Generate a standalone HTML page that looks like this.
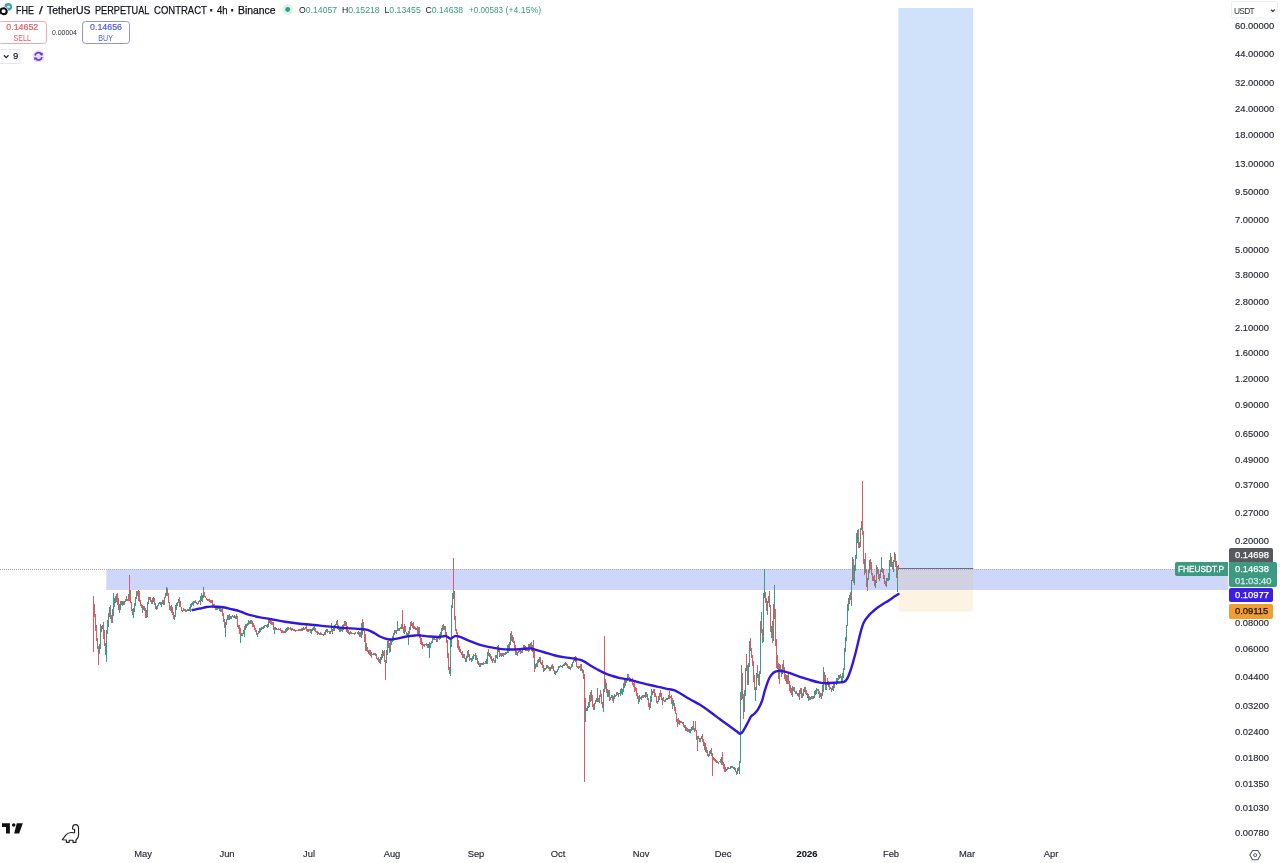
<!DOCTYPE html>
<html><head><meta charset="utf-8"><title>FHEUSDT.P</title>
<style>
html,body{margin:0;padding:0;background:#fff}
body{width:1280px;height:863px;position:relative;overflow:hidden;font-family:"Liberation Sans",sans-serif;color:#131722}
#chart{position:absolute;left:0;top:0}
.pl{position:absolute;left:1235px;font-size:9.4px;line-height:12px;height:12px;color:#262a34;-webkit-text-stroke:0.15px;white-space:nowrap}
.tl{position:absolute;top:848px;width:40px;text-align:center;font-size:9.4px;line-height:12px;color:#262a34;-webkit-text-stroke:0.15px}
.tl.b{font-weight:bold;color:#131722}
.tag{position:absolute;color:#fff;-webkit-text-stroke:0.25px;font-size:9.4px;line-height:12px;white-space:nowrap;box-sizing:border-box}
#title{-webkit-text-stroke:0.25px;position:absolute;left:15.25px;top:2.7px;font-size:10.7px;line-height:14px;white-space:nowrap;color:#10131a}
#title span{position:absolute;top:0;display:block;transform-origin:0 0;white-space:nowrap}
.ohlc{position:absolute;top:4px;font-size:8.7px;line-height:12px;white-space:nowrap;color:#131722}
.ohlc i{font-style:normal;color:#379a83}
.btn{position:absolute;top:20.9px;height:23.2px;box-sizing:border-box;border:1.2px solid;border-radius:3.5px;text-align:center;white-space:nowrap}
.btn b{display:block;font-weight:normal;font-size:8.85px;line-height:9px;margin-top:1.2px;-webkit-text-stroke:0.2px}
.btn s{display:block;text-decoration:none;font-size:8.4px;line-height:8px;margin-top:1.8px;transform:scaleX(0.85)}
</style></head><body>
<svg id="chart" width="1280" height="863" viewBox="0 0 1280 863">
<rect x="106.3" y="569" width="1122" height="21" fill="#cfd6fb"/>
<rect x="898.4" y="8" width="74.8" height="560.5" fill="#cfe2fa"/>
<rect x="898.4" y="568.5" width="74.8" height="21.5" fill="#d1d1e2"/>
<rect x="898.4" y="590" width="74.8" height="21.6" fill="#fcf3e2"/>
<line x1="0" y1="569.5" x2="106" y2="569.5" stroke="#9fa3ad" stroke-width="1" stroke-dasharray="1 1"/>
<line x1="106" y1="569.5" x2="1175" y2="569.5" stroke="#a9b0d8" stroke-width="1" stroke-dasharray="1 1"/>
<line x1="898.4" y1="568.5" x2="973.2" y2="568.5" stroke="#6a7080" stroke-width="1.2"/>
<g fill="none" stroke-width="1" shape-rendering="crispEdges"><path stroke="#dc5c66" d="M93.5 595.7V652.0M93.5 597.0V605.5M94.5 603.7V615.0M94.5 610.9V616.8M95.5 613.8V620.4M95.5 614.0V631.3M96.5 624.9V629.8M96.5 627.5V636.4M96.5 633.4V641.4M97.5 637.9V649.3M97.5 643.7V648.4M98.5 646.0V653.1M98.5 651.0V665.0"/><path stroke="#3d9b89" d="M99.5 650.1V653.6M99.5 643.8V652.2M100.5 639.6V649.0M100.5 633.6V646.9M100.5 624.1V638.3"/><path stroke="#dc5c66" d="M101.5 626.1V631.9"/><path stroke="#3d9b89" d="M101.5 627.7V630.6"/><path stroke="#dc5c66" d="M102.5 626.6V628.8"/><path stroke="#3d9b89" d="M102.5 625.4V629.2"/><path stroke="#dc5c66" d="M103.5 622.0V639.2M103.5 630.9V639.3M104.5 630.3V639.5M104.5 635.4V645.7M105.5 642.7V648.8M105.5 645.3V651.7"/><path stroke="#3d9b89" d="M105.5 643.7V655.0M106.5 638.1V662.0M106.5 629.5V643.3M107.5 627.1V634.2M107.5 620.4V629.2M108.5 621.2V626.9M108.5 613.3V624.1M109.5 608.0V616.7M109.5 606.9V613.8M110.5 604.7V608.9"/><path stroke="#dc5c66" d="M110.5 606.7V616.1M110.5 608.8V619.4M111.5 614.5V620.8M111.5 617.7V622.7"/><path stroke="#3d9b89" d="M112.5 616.0V622.9M112.5 608.5V617.7M113.5 603.9V615.9M113.5 593.0V606.4M114.5 600.5V604.5M114.5 598.0V607.4M114.5 598.1V602.5M115.5 597.7V600.0M115.5 595.8V603.1M116.5 594.3V597.0"/><path stroke="#dc5c66" d="M116.5 595.0V601.6M117.5 593.0V602.0M117.5 596.2V604.9M118.5 598.3V608.5"/><path stroke="#3d9b89" d="M118.5 605.8V610.2M119.5 604.4V610.0"/><path stroke="#dc5c66" d="M119.5 603.8V613.2"/><path stroke="#3d9b89" d="M119.5 609.5V613.3M120.5 605.3V610.0M120.5 600.7V606.2"/><path stroke="#dc5c66" d="M121.5 601.0V604.8"/><path stroke="#3d9b89" d="M121.5 601.4V604.6"/><path stroke="#dc5c66" d="M122.5 600.5V605.8"/><path stroke="#3d9b89" d="M122.5 601.6V604.7"/><path stroke="#dc5c66" d="M123.5 600.9V605.2M123.5 602.2V605.2"/><path stroke="#3d9b89" d="M124.5 600.9V605.2"/><path stroke="#dc5c66" d="M124.5 601.3V604.5"/><path stroke="#3d9b89" d="M124.5 600.8V605.1M125.5 600.6V601.7M125.5 599.0V602.4M126.5 596.4V601.4"/><path stroke="#dc5c66" d="M126.5 597.6V600.7"/><path stroke="#3d9b89" d="M127.5 598.7V599.9"/><path stroke="#dc5c66" d="M127.5 598.5V601.2"/><path stroke="#3d9b89" d="M128.5 594.4V600.0"/><path stroke="#dc5c66" d="M128.5 596.0V597.7M128.5 597.5V600.7M129.5 575.0V600.7"/><path stroke="#3d9b89" d="M129.5 593.4V596.4M130.5 590.5V600.2"/><path stroke="#dc5c66" d="M130.5 590.0V602.8M131.5 602.7V608.3M131.5 601.5V611.2M132.5 608.7V613.7"/><path stroke="#3d9b89" d="M132.5 611.8V615.1"/><path stroke="#dc5c66" d="M133.5 611.8V615.3M133.5 613.7V616.0"/><path stroke="#3d9b89" d="M133.5 608.1V618.2M134.5 605.2V612.4M134.5 602.8V611.3M135.5 600.3V605.6M135.5 597.0V604.8M136.5 594.1V598.5M136.5 591.0V596.6"/><path stroke="#dc5c66" d="M137.5 591.4V594.8M137.5 592.7V595.9"/><path stroke="#3d9b89" d="M138.5 592.1V597.4"/><path stroke="#dc5c66" d="M138.5 590.1V596.2M138.5 590.8V600.6M139.5 590.5V602.1M139.5 595.5V602.4M140.5 600.2V605.8M140.5 603.2V606.4M141.5 604.4V608.0M141.5 604.6V606.3"/><path stroke="#3d9b89" d="M142.5 604.8V610.3"/><path stroke="#dc5c66" d="M142.5 605.1V612.8"/><path stroke="#3d9b89" d="M142.5 608.0V611.5"/><path stroke="#dc5c66" d="M143.5 608.6V609.5"/><path stroke="#3d9b89" d="M143.5 605.8V609.3"/><path stroke="#dc5c66" d="M144.5 605.5V611.0"/><path stroke="#3d9b89" d="M144.5 607.6V609.2"/><path stroke="#dc5c66" d="M145.5 607.7V613.5M145.5 609.5V618.4"/><path stroke="#3d9b89" d="M146.5 610.3V617.6"/><path stroke="#dc5c66" d="M146.5 611.3V617.0"/><path stroke="#3d9b89" d="M147.5 606.3V617.3M147.5 608.4V614.0M147.5 601.9V611.0M148.5 596.8V604.1M148.5 597.1V598.9M149.5 596.9V597.4"/><path stroke="#dc5c66" d="M149.5 596.9V599.7M150.5 597.1V600.8M150.5 599.4V602.2"/><path stroke="#3d9b89" d="M151.5 600.5V603.7"/><path stroke="#dc5c66" d="M151.5 600.4V602.4"/><path stroke="#3d9b89" d="M152.5 597.6V602.9"/><path stroke="#dc5c66" d="M152.5 600.4V604.1"/><path stroke="#3d9b89" d="M152.5 598.3V602.8M153.5 596.8V599.8"/><path stroke="#dc5c66" d="M153.5 597.6V602.3M154.5 597.6V605.1M154.5 601.7V604.9M155.5 603.4V608.6"/><path stroke="#3d9b89" d="M155.5 603.0V608.8"/><path stroke="#dc5c66" d="M156.5 606.3V610.1M156.5 605.9V608.3M156.5 605.9V608.2"/><path stroke="#3d9b89" d="M157.5 606.0V608.8M157.5 604.8V607.8M158.5 604.7V606.1M158.5 602.9V605.4M159.5 602.1V604.3M159.5 601.9V603.7"/><path stroke="#dc5c66" d="M160.5 602.4V604.7"/><path stroke="#3d9b89" d="M160.5 602.0V605.0"/><path stroke="#dc5c66" d="M161.5 602.9V605.9"/><path stroke="#3d9b89" d="M161.5 602.4V606.6M161.5 602.4V603.9M162.5 599.7V603.8"/><path stroke="#dc5c66" d="M162.5 599.9V602.6"/><path stroke="#3d9b89" d="M163.5 601.3V603.7"/><path stroke="#dc5c66" d="M163.5 600.2V604.9"/><path stroke="#3d9b89" d="M164.5 596.9V604.5M164.5 597.9V599.7M165.5 592.8V598.0"/><path stroke="#dc5c66" d="M165.5 594.5V595.5"/><path stroke="#3d9b89" d="M166.5 592.2V596.1M166.5 592.1V593.8M166.5 587.1V593.3"/><path stroke="#dc5c66" d="M167.5 588.3V592.6M167.5 591.6V596.0M168.5 593.4V600.8M168.5 600.3V602.8M169.5 601.9V610.0"/><path stroke="#3d9b89" d="M169.5 607.3V609.6M170.5 606.9V608.8"/><path stroke="#dc5c66" d="M170.5 606.1V608.1M170.5 606.9V610.7"/><path stroke="#3d9b89" d="M171.5 605.4V613.1"/><path stroke="#dc5c66" d="M171.5 606.8V608.7M172.5 606.9V614.5M172.5 609.7V614.2M173.5 612.1V617.7M173.5 614.3V619.0"/><path stroke="#3d9b89" d="M174.5 617.5V618.6M174.5 615.1V619.7M175.5 610.9V616.7M175.5 605.2V615.9M175.5 607.7V610.0M176.5 606.7V609.7M176.5 602.5V609.8"/><path stroke="#dc5c66" d="M177.5 604.0V606.0"/><path stroke="#3d9b89" d="M177.5 601.9V605.2M178.5 599.2V602.8"/><path stroke="#dc5c66" d="M178.5 600.9V602.2"/><path stroke="#3d9b89" d="M179.5 600.1V604.4"/><path stroke="#dc5c66" d="M179.5 597.3V607.4"/><path stroke="#3d9b89" d="M180.5 600.5V607.1"/><path stroke="#dc5c66" d="M180.5 603.4V606.2M180.5 603.9V607.2"/><path stroke="#3d9b89" d="M181.5 606.7V607.7"/><path stroke="#dc5c66" d="M181.5 606.5V611.3"/><path stroke="#3d9b89" d="M182.5 609.5V611.8"/><path stroke="#dc5c66" d="M182.5 609.9V610.7"/><path stroke="#3d9b89" d="M183.5 608.1V610.6"/><path stroke="#dc5c66" d="M183.5 608.6V609.8M184.5 608.9V610.2M184.5 608.9V611.1"/><path stroke="#3d9b89" d="M184.5 609.9V611.0"/><path stroke="#dc5c66" d="M185.5 609.8V610.4M185.5 609.2V611.7"/><path stroke="#3d9b89" d="M186.5 610.3V611.8"/><path stroke="#dc5c66" d="M186.5 610.4V611.3"/><path stroke="#3d9b89" d="M187.5 610.5V611.2M187.5 608.9V610.8"/><path stroke="#dc5c66" d="M188.5 609.6V610.4"/><path stroke="#3d9b89" d="M188.5 609.4V610.9"/><path stroke="#dc5c66" d="M189.5 609.7V611.1"/><path stroke="#3d9b89" d="M189.5 607.3V611.3"/><path stroke="#dc5c66" d="M189.5 608.2V609.8"/><path stroke="#3d9b89" d="M190.5 604.7V611.9M190.5 603.7V608.6M191.5 604.0V606.9M191.5 602.7V606.4"/><path stroke="#dc5c66" d="M192.5 601.7V604.9"/><path stroke="#3d9b89" d="M192.5 601.9V605.3"/><path stroke="#dc5c66" d="M193.5 602.0V605.8"/><path stroke="#3d9b89" d="M193.5 601.4V603.8"/><path stroke="#dc5c66" d="M194.5 601.2V603.4"/><path stroke="#3d9b89" d="M194.5 601.5V603.3M194.5 600.6V602.0"/><path stroke="#dc5c66" d="M195.5 600.9V601.7M195.5 600.3V603.0M196.5 602.1V603.4M196.5 602.2V604.2"/><path stroke="#3d9b89" d="M197.5 603.7V604.9M197.5 602.9V604.1M198.5 600.5V603.4"/><path stroke="#dc5c66" d="M198.5 601.7V603.5"/><path stroke="#3d9b89" d="M198.5 601.2V603.2M199.5 599.5V601.8"/><path stroke="#dc5c66" d="M199.5 600.1V602.4"/><path stroke="#3d9b89" d="M200.5 599.5V604.5M200.5 595.8V600.9M201.5 599.1V601.1M201.5 593.4V600.4"/><path stroke="#dc5c66" d="M202.5 595.8V602.2"/><path stroke="#3d9b89" d="M202.5 595.3V599.5M203.5 591.1V597.6M203.5 586.5V594.6"/><path stroke="#dc5c66" d="M203.5 589.5V595.3M204.5 592.0V595.4M204.5 593.7V596.6M205.5 595.7V597.4M205.5 596.6V598.3M206.5 598.0V599.4M206.5 597.6V600.3"/><path stroke="#3d9b89" d="M207.5 598.6V600.9"/><path stroke="#dc5c66" d="M207.5 598.7V600.7"/><path stroke="#3d9b89" d="M208.5 599.0V601.2"/><path stroke="#dc5c66" d="M208.5 599.1V600.4M208.5 600.0V600.9"/><path stroke="#3d9b89" d="M209.5 600.0V602.4"/><path stroke="#dc5c66" d="M209.5 599.3V602.0M210.5 600.3V602.8M210.5 600.1V603.4M211.5 600.0V603.1M211.5 602.2V603.2M212.5 600.2V605.3"/><path stroke="#3d9b89" d="M212.5 603.2V605.8"/><path stroke="#dc5c66" d="M212.5 603.2V605.7M213.5 603.6V606.7"/><path stroke="#3d9b89" d="M213.5 603.9V606.5"/><path stroke="#dc5c66" d="M214.5 603.7V606.1M214.5 605.5V608.1M215.5 606.2V608.4M215.5 606.1V610.1M216.5 606.1V609.4"/><path stroke="#3d9b89" d="M216.5 608.1V609.9"/><path stroke="#dc5c66" d="M217.5 608.1V608.9M217.5 608.0V610.1"/><path stroke="#3d9b89" d="M217.5 607.0V609.5M218.5 607.7V609.0M218.5 607.2V608.1"/><path stroke="#dc5c66" d="M219.5 607.5V608.7M219.5 606.1V610.9"/><path stroke="#3d9b89" d="M220.5 606.2V612.4"/><path stroke="#dc5c66" d="M220.5 609.4V610.5"/><path stroke="#3d9b89" d="M221.5 608.8V609.8M221.5 608.9V611.6"/><path stroke="#dc5c66" d="M222.5 607.9V610.3M222.5 609.1V616.2M222.5 611.6V615.5M223.5 612.7V618.2M223.5 616.8V621.8"/><path stroke="#3d9b89" d="M224.5 618.5V621.9"/><path stroke="#dc5c66" d="M224.5 619.7V628.0M225.5 624.9V627.6"/><path stroke="#3d9b89" d="M225.5 622.3V637.0M226.5 620.7V624.7M226.5 619.9V624.2M226.5 618.9V622.4M227.5 617.8V619.7M227.5 615.3V619.2M228.5 615.7V619.8M228.5 615.0V617.5"/><path stroke="#dc5c66" d="M229.5 614.2V620.3"/><path stroke="#3d9b89" d="M229.5 617.1V617.8"/><path stroke="#dc5c66" d="M230.5 616.2V617.7"/><path stroke="#3d9b89" d="M230.5 616.6V618.6"/><path stroke="#dc5c66" d="M231.5 616.7V618.1"/><path stroke="#3d9b89" d="M231.5 617.7V618.8M231.5 615.7V618.2"/><path stroke="#dc5c66" d="M232.5 615.9V616.9M232.5 615.4V617.3M233.5 616.7V617.6"/><path stroke="#3d9b89" d="M233.5 615.7V617.4"/><path stroke="#dc5c66" d="M234.5 615.1V618.1"/><path stroke="#3d9b89" d="M234.5 615.8V618.3"/><path stroke="#dc5c66" d="M235.5 615.6V618.0"/><path stroke="#3d9b89" d="M235.5 616.1V618.7M236.5 613.6V616.8"/><path stroke="#dc5c66" d="M236.5 614.9V618.7"/><path stroke="#3d9b89" d="M236.5 616.4V618.1"/><path stroke="#dc5c66" d="M237.5 615.8V626.9M237.5 620.7V626.1M238.5 625.4V627.8M238.5 625.0V628.9M239.5 624.8V631.4M239.5 628.3V633.5M240.5 628.1V636.3"/><path stroke="#3d9b89" d="M240.5 635.8V642.6M240.5 633.5V637.2M241.5 633.7V635.5"/><path stroke="#dc5c66" d="M241.5 632.6V635.2"/><path stroke="#3d9b89" d="M242.5 633.1V634.8M242.5 632.6V635.6M243.5 632.0V634.4M243.5 630.3V632.4"/><path stroke="#dc5c66" d="M244.5 626.7V632.8"/><path stroke="#3d9b89" d="M244.5 625.5V636.8M245.5 625.1V628.0"/><path stroke="#dc5c66" d="M245.5 624.4V630.3M245.5 626.1V627.1"/><path stroke="#3d9b89" d="M246.5 623.6V627.8M246.5 623.8V627.8M247.5 623.4V625.5M247.5 622.5V624.4"/><path stroke="#dc5c66" d="M248.5 621.2V625.0"/><path stroke="#3d9b89" d="M248.5 619.8V623.7"/><path stroke="#dc5c66" d="M249.5 620.9V623.6"/><path stroke="#3d9b89" d="M249.5 620.8V623.6M250.5 619.5V622.2"/><path stroke="#dc5c66" d="M250.5 619.5V623.4"/><path stroke="#3d9b89" d="M250.5 620.3V623.5"/><path stroke="#dc5c66" d="M251.5 620.4V623.9M251.5 621.9V624.0"/><path stroke="#3d9b89" d="M252.5 623.1V624.2"/><path stroke="#dc5c66" d="M252.5 620.7V627.1M253.5 622.6V624.1M253.5 623.1V626.5"/><path stroke="#3d9b89" d="M254.5 625.0V630.0"/><path stroke="#dc5c66" d="M254.5 625.4V628.7M254.5 627.6V630.4M255.5 627.6V631.0M255.5 628.1V632.3M256.5 630.2V633.1M256.5 630.0V634.7"/><path stroke="#3d9b89" d="M257.5 633.1V636.5M257.5 632.9V634.8M258.5 631.7V634.2M258.5 631.4V633.9M259.5 629.5V632.6M259.5 628.4V632.7M259.5 629.6V631.6"/><path stroke="#dc5c66" d="M260.5 629.6V632.1"/><path stroke="#3d9b89" d="M260.5 627.8V630.7M261.5 626.8V629.9M261.5 627.4V628.7M262.5 626.5V629.4"/><path stroke="#dc5c66" d="M262.5 626.9V628.9M263.5 627.5V628.1"/><path stroke="#3d9b89" d="M263.5 626.2V628.9"/><path stroke="#dc5c66" d="M264.5 625.9V626.7"/><path stroke="#3d9b89" d="M264.5 626.1V627.7M264.5 624.7V626.8M265.5 625.0V626.3"/><path stroke="#dc5c66" d="M265.5 624.8V626.4M266.5 625.6V626.8"/><path stroke="#3d9b89" d="M266.5 625.3V626.7M267.5 625.2V627.8M267.5 623.5V626.0M268.5 623.3V626.6M268.5 621.4V624.9M268.5 619.0V623.0"/><path stroke="#dc5c66" d="M269.5 619.3V622.8M269.5 620.9V621.9M270.5 620.3V623.5M270.5 621.5V623.1M271.5 621.2V624.6"/><path stroke="#3d9b89" d="M271.5 623.5V624.3M272.5 622.1V624.6"/><path stroke="#dc5c66" d="M272.5 622.3V624.6M273.5 622.0V626.3M273.5 622.7V626.5M273.5 624.0V630.1"/><path stroke="#3d9b89" d="M274.5 628.3V634.0"/><path stroke="#dc5c66" d="M274.5 627.1V630.3"/><path stroke="#3d9b89" d="M275.5 627.3V629.7"/><path stroke="#dc5c66" d="M275.5 627.6V629.1"/><path stroke="#3d9b89" d="M276.5 628.4V629.7"/><path stroke="#dc5c66" d="M276.5 628.6V629.7M277.5 629.1V630.2"/><path stroke="#3d9b89" d="M277.5 629.6V630.3M278.5 628.3V629.9M278.5 628.3V629.4"/><path stroke="#dc5c66" d="M278.5 628.3V630.1"/><path stroke="#3d9b89" d="M279.5 629.6V630.2M279.5 629.2V629.8"/><path stroke="#dc5c66" d="M280.5 627.6V631.1M280.5 628.9V630.4M281.5 629.6V631.6M281.5 630.7V633.4"/><path stroke="#3d9b89" d="M282.5 630.4V631.9M282.5 630.1V631.7"/><path stroke="#dc5c66" d="M282.5 630.3V633.2"/><path stroke="#3d9b89" d="M283.5 631.1V633.3"/><path stroke="#dc5c66" d="M283.5 631.2V632.6"/><path stroke="#3d9b89" d="M284.5 632.2V632.5M284.5 631.2V633.3M285.5 629.2V633.4M285.5 629.4V632.4M286.5 629.6V632.0M286.5 628.4V630.7"/><path stroke="#dc5c66" d="M287.5 628.3V631.3"/><path stroke="#3d9b89" d="M287.5 628.0V630.2M287.5 626.8V629.4"/><path stroke="#dc5c66" d="M288.5 627.0V628.6M288.5 628.0V629.7"/><path stroke="#3d9b89" d="M289.5 628.2V628.6"/><path stroke="#dc5c66" d="M289.5 628.1V628.9"/><path stroke="#3d9b89" d="M290.5 628.1V629.8"/><path stroke="#dc5c66" d="M290.5 627.2V629.7M291.5 628.3V630.6"/><path stroke="#3d9b89" d="M291.5 629.1V630.1"/><path stroke="#dc5c66" d="M292.5 628.3V630.1M292.5 629.6V630.0"/><path stroke="#3d9b89" d="M292.5 628.7V630.2"/><path stroke="#dc5c66" d="M293.5 628.9V630.1M293.5 629.0V631.2M294.5 630.0V630.9"/><path stroke="#3d9b89" d="M294.5 629.3V630.9"/><path stroke="#dc5c66" d="M295.5 629.5V631.5M295.5 629.8V630.9"/><path stroke="#3d9b89" d="M296.5 629.8V630.9"/><path stroke="#dc5c66" d="M296.5 629.5V630.6M296.5 630.1V631.3"/><path stroke="#3d9b89" d="M297.5 629.8V631.0"/><path stroke="#dc5c66" d="M297.5 629.7V630.7"/><path stroke="#3d9b89" d="M298.5 628.7V630.7"/><path stroke="#dc5c66" d="M298.5 629.7V631.0"/><path stroke="#3d9b89" d="M299.5 628.9V631.1"/><path stroke="#dc5c66" d="M299.5 628.5V630.8M300.5 629.8V630.8"/><path stroke="#3d9b89" d="M300.5 629.2V630.5M301.5 629.0V630.4"/><path stroke="#dc5c66" d="M301.5 627.9V629.9M301.5 628.2V630.5M302.5 628.3V631.1"/><path stroke="#3d9b89" d="M302.5 628.8V629.9"/><path stroke="#dc5c66" d="M303.5 628.2V629.5"/><path stroke="#3d9b89" d="M303.5 627.4V629.7"/><path stroke="#dc5c66" d="M304.5 627.8V630.0M304.5 628.4V629.2"/><path stroke="#3d9b89" d="M305.5 628.4V629.3M305.5 626.8V629.4M306.5 625.0V628.3"/><path stroke="#dc5c66" d="M306.5 622.8V627.4M306.5 625.3V631.3M307.5 628.9V631.2M307.5 630.2V631.7"/><path stroke="#3d9b89" d="M308.5 629.5V631.7M308.5 628.6V630.5"/><path stroke="#dc5c66" d="M309.5 629.1V629.6M309.5 629.0V631.4M310.5 629.5V630.7M310.5 628.6V632.2M310.5 631.0V633.4"/><path stroke="#3d9b89" d="M311.5 628.9V633.8M311.5 630.0V632.6M312.5 629.0V630.8M312.5 628.4V629.6M313.5 628.3V629.1M313.5 627.4V629.5"/><path stroke="#dc5c66" d="M314.5 626.8V630.7"/><path stroke="#3d9b89" d="M314.5 626.2V630.1"/><path stroke="#dc5c66" d="M315.5 627.8V630.4M315.5 628.4V631.8M315.5 628.6V632.3M316.5 631.3V632.5M316.5 631.5V632.9"/><path stroke="#3d9b89" d="M317.5 632.3V634.6"/><path stroke="#dc5c66" d="M317.5 630.7V633.1"/><path stroke="#3d9b89" d="M318.5 632.7V633.8"/><path stroke="#dc5c66" d="M318.5 632.4V633.5M319.5 632.9V634.8"/><path stroke="#3d9b89" d="M319.5 632.8V634.3"/><path stroke="#dc5c66" d="M320.5 632.4V634.3M320.5 633.0V635.0"/><path stroke="#3d9b89" d="M320.5 634.0V635.1M321.5 633.1V634.9"/><path stroke="#dc5c66" d="M321.5 633.1V634.8M322.5 633.8V634.8"/><path stroke="#3d9b89" d="M322.5 633.5V634.4"/><path stroke="#dc5c66" d="M323.5 633.5V634.6"/><path stroke="#3d9b89" d="M323.5 633.5V636.2"/><path stroke="#dc5c66" d="M324.5 632.7V634.8"/><path stroke="#3d9b89" d="M324.5 632.4V634.0"/><path stroke="#dc5c66" d="M324.5 632.0V635.0"/><path stroke="#3d9b89" d="M325.5 632.7V634.7M325.5 630.0V633.3M326.5 630.7V631.8M326.5 629.3V631.8"/><path stroke="#dc5c66" d="M327.5 629.4V632.5"/><path stroke="#3d9b89" d="M327.5 630.7V632.6"/><path stroke="#dc5c66" d="M328.5 630.6V632.3"/><path stroke="#3d9b89" d="M328.5 631.8V632.3"/><path stroke="#dc5c66" d="M329.5 631.7V632.8"/><path stroke="#3d9b89" d="M329.5 631.3V633.1"/><path stroke="#dc5c66" d="M329.5 630.6V633.9"/><path stroke="#3d9b89" d="M330.5 632.0V634.2M330.5 630.6V633.8M331.5 623.0V632.0"/><path stroke="#dc5c66" d="M331.5 629.9V631.7"/><path stroke="#3d9b89" d="M332.5 628.5V631.8"/><path stroke="#dc5c66" d="M332.5 629.5V633.5"/><path stroke="#3d9b89" d="M333.5 627.1V631.3M333.5 628.2V629.2M334.5 627.3V628.7"/><path stroke="#dc5c66" d="M334.5 627.4V631.0"/><path stroke="#3d9b89" d="M334.5 625.4V629.9M335.5 625.2V628.0M335.5 623.7V626.3"/><path stroke="#dc5c66" d="M336.5 623.1V625.3"/><path stroke="#3d9b89" d="M336.5 621.0V625.1"/><path stroke="#dc5c66" d="M337.5 619.6V624.6M337.5 621.7V628.9M338.5 624.7V628.6M338.5 626.0V628.7"/><path stroke="#3d9b89" d="M338.5 626.1V629.5"/><path stroke="#dc5c66" d="M339.5 627.7V630.6"/><path stroke="#3d9b89" d="M339.5 628.1V632.0"/><path stroke="#dc5c66" d="M340.5 628.1V631.5"/><path stroke="#3d9b89" d="M340.5 628.1V630.9M341.5 627.6V630.1"/><path stroke="#dc5c66" d="M341.5 628.2V631.2"/><path stroke="#3d9b89" d="M342.5 625.7V631.5M342.5 625.0V629.3"/><path stroke="#dc5c66" d="M343.5 625.0V627.9"/><path stroke="#3d9b89" d="M343.5 624.5V630.0"/><path stroke="#dc5c66" d="M343.5 623.8V626.7"/><path stroke="#3d9b89" d="M344.5 620.9V625.7"/><path stroke="#dc5c66" d="M344.5 621.2V622.8M345.5 621.8V625.6M345.5 620.9V626.0M346.5 622.1V630.4M346.5 627.4V631.7M347.5 626.2V630.3M347.5 627.5V633.1M348.5 630.2V634.3"/><path stroke="#3d9b89" d="M348.5 631.5V634.4M348.5 632.2V632.7"/><path stroke="#dc5c66" d="M349.5 632.1V634.5"/><path stroke="#3d9b89" d="M349.5 632.8V633.7M350.5 631.1V634.0"/><path stroke="#dc5c66" d="M350.5 631.8V633.8"/><path stroke="#3d9b89" d="M351.5 632.8V633.4"/><path stroke="#dc5c66" d="M351.5 632.2V633.7M352.5 632.7V633.9"/><path stroke="#3d9b89" d="M352.5 633.3V634.0"/><path stroke="#dc5c66" d="M352.5 632.9V633.9"/><path stroke="#3d9b89" d="M353.5 633.2V633.8M353.5 633.1V633.5"/><path stroke="#dc5c66" d="M354.5 632.9V634.6"/><path stroke="#3d9b89" d="M354.5 632.6V634.4"/><path stroke="#dc5c66" d="M355.5 632.4V633.9"/><path stroke="#3d9b89" d="M355.5 632.4V634.2"/><path stroke="#dc5c66" d="M356.5 632.7V633.1M356.5 632.9V633.4"/><path stroke="#3d9b89" d="M357.5 632.2V634.4"/><path stroke="#dc5c66" d="M357.5 632.4V633.5"/><path stroke="#3d9b89" d="M357.5 632.8V634.3"/><path stroke="#dc5c66" d="M358.5 633.0V634.6"/><path stroke="#3d9b89" d="M358.5 631.0V634.3"/><path stroke="#dc5c66" d="M359.5 631.8V632.8M359.5 631.8V636.5"/><path stroke="#3d9b89" d="M360.5 633.5V637.4"/><path stroke="#dc5c66" d="M360.5 631.9V635.2"/><path stroke="#3d9b89" d="M361.5 632.2V637.5M361.5 623.2V634.2M362.5 627.0V635.4M362.5 620.5V630.0"/><path stroke="#dc5c66" d="M362.5 619.0V623.9M363.5 621.6V628.2M363.5 626.4V630.7M364.5 628.7V634.5M364.5 627.6V642.0M365.5 634.0V650.8"/><path stroke="#3d9b89" d="M365.5 643.5V648.5"/><path stroke="#dc5c66" d="M366.5 642.6V651.4"/><path stroke="#3d9b89" d="M366.5 645.3V650.5"/><path stroke="#dc5c66" d="M366.5 645.0V650.3"/><path stroke="#3d9b89" d="M367.5 649.0V650.2"/><path stroke="#dc5c66" d="M367.5 647.3V651.9M368.5 649.9V653.8"/><path stroke="#3d9b89" d="M368.5 651.2V653.0M369.5 651.0V653.3"/><path stroke="#dc5c66" d="M369.5 649.5V654.8M370.5 650.1V655.8"/><path stroke="#3d9b89" d="M370.5 653.6V655.8"/><path stroke="#dc5c66" d="M371.5 654.1V655.6"/><path stroke="#3d9b89" d="M371.5 652.2V656.6"/><path stroke="#dc5c66" d="M371.5 653.3V658.0"/><path stroke="#3d9b89" d="M372.5 654.5V654.8M372.5 653.9V654.7"/><path stroke="#dc5c66" d="M373.5 653.4V654.4"/><path stroke="#3d9b89" d="M373.5 653.7V655.1"/><path stroke="#dc5c66" d="M374.5 653.4V654.9"/><path stroke="#3d9b89" d="M374.5 654.0V654.6"/><path stroke="#dc5c66" d="M375.5 652.9V655.7"/><path stroke="#3d9b89" d="M375.5 654.7V655.8"/><path stroke="#dc5c66" d="M376.5 654.2V655.4M376.5 653.8V658.5M376.5 655.8V657.9M377.5 657.6V659.6M377.5 657.9V659.1M378.5 657.3V660.9M378.5 658.9V661.5M379.5 659.7V661.4M379.5 658.7V662.9"/><path stroke="#3d9b89" d="M380.5 659.5V663.9M380.5 660.4V662.8M380.5 656.5V662.3M381.5 654.2V659.6M381.5 654.1V659.4M382.5 654.0V658.4M382.5 650.0V655.5"/><path stroke="#dc5c66" d="M383.5 651.4V653.4M383.5 651.7V655.9M384.5 650.2V658.9M384.5 657.3V662.0M385.5 660.2V666.4"/><path stroke="#3d9b89" d="M385.5 662.5V665.0"/><path stroke="#dc5c66" d="M385.5 659.7V680.0"/><path stroke="#3d9b89" d="M386.5 657.2V663.4M386.5 650.3V661.9M387.5 641.2V654.9M387.5 641.2V646.1M388.5 639.1V647.9"/><path stroke="#dc5c66" d="M388.5 639.9V648.4M389.5 643.0V653.1"/><path stroke="#3d9b89" d="M389.5 648.0V650.3M390.5 642.4V652.2M390.5 641.3V650.3M390.5 638.2V647.1"/><path stroke="#dc5c66" d="M391.5 639.4V643.9"/><path stroke="#3d9b89" d="M391.5 638.9V645.4M392.5 636.9V642.4"/><path stroke="#dc5c66" d="M392.5 636.0V637.3M393.5 636.6V640.2"/><path stroke="#3d9b89" d="M393.5 632.7V641.3"/><path stroke="#dc5c66" d="M394.5 633.8V635.0"/><path stroke="#3d9b89" d="M394.5 632.2V635.3M394.5 630.1V633.5"/><path stroke="#dc5c66" d="M395.5 629.5V632.3M395.5 631.8V633.4"/><path stroke="#3d9b89" d="M396.5 630.9V634.0M396.5 630.3V632.4M397.5 628.9V630.9M397.5 620.7V629.7"/><path stroke="#dc5c66" d="M398.5 628.3V630.3M398.5 628.9V631.0"/><path stroke="#3d9b89" d="M399.5 627.7V630.9"/><path stroke="#dc5c66" d="M399.5 627.6V630.8"/><path stroke="#3d9b89" d="M399.5 627.9V630.4M400.5 626.9V629.0"/><path stroke="#dc5c66" d="M400.5 626.6V629.0"/><path stroke="#3d9b89" d="M401.5 627.0V628.6M401.5 624.0V627.4M402.5 619.5V625.7"/><path stroke="#dc5c66" d="M402.5 610.0V628.7M403.5 627.0V633.3"/><path stroke="#3d9b89" d="M403.5 628.9V632.5M404.5 628.1V633.5M404.5 625.2V629.8"/><path stroke="#dc5c66" d="M404.5 623.9V629.3M405.5 625.9V630.9M405.5 625.8V632.1M406.5 631.5V634.9M406.5 632.1V634.9M407.5 634.7V636.8"/><path stroke="#3d9b89" d="M407.5 632.6V636.7"/><path stroke="#dc5c66" d="M408.5 631.9V637.2"/><path stroke="#3d9b89" d="M408.5 630.7V635.7M408.5 631.4V645.0M409.5 627.0V633.0"/><path stroke="#dc5c66" d="M409.5 627.7V633.5"/><path stroke="#3d9b89" d="M410.5 624.3V629.8M410.5 621.6V626.3M411.5 622.3V624.1"/><path stroke="#dc5c66" d="M411.5 621.0V626.0M412.5 623.3V628.4M412.5 625.2V626.8"/><path stroke="#3d9b89" d="M413.5 625.6V628.6"/><path stroke="#dc5c66" d="M413.5 622.3V627.8M413.5 626.7V627.4M414.5 626.0V628.8M414.5 625.6V628.3M415.5 627.0V628.9M415.5 627.7V630.3M416.5 627.6V629.2"/><path stroke="#3d9b89" d="M416.5 628.2V630.0"/><path stroke="#dc5c66" d="M417.5 626.4V630.5M417.5 629.0V633.7"/><path stroke="#3d9b89" d="M418.5 630.0V631.1"/><path stroke="#dc5c66" d="M418.5 629.1V635.2"/><path stroke="#3d9b89" d="M418.5 626.8V634.3"/><path stroke="#dc5c66" d="M419.5 626.8V637.1M419.5 633.9V637.6M420.5 633.9V641.9M420.5 637.1V644.3"/><path stroke="#3d9b89" d="M421.5 638.0V644.9"/><path stroke="#dc5c66" d="M421.5 638.3V644.8M422.5 642.9V645.5"/><path stroke="#3d9b89" d="M422.5 642.1V645.0"/><path stroke="#dc5c66" d="M422.5 642.1V649.0M423.5 643.9V645.4M423.5 644.6V646.2"/><path stroke="#3d9b89" d="M424.5 645.1V646.4M424.5 644.2V646.5M425.5 644.2V644.4"/><path stroke="#dc5c66" d="M425.5 643.8V644.5"/><path stroke="#3d9b89" d="M426.5 643.5V644.8"/><path stroke="#dc5c66" d="M426.5 642.9V645.8"/><path stroke="#3d9b89" d="M427.5 644.1V645.5"/><path stroke="#dc5c66" d="M427.5 644.4V647.7"/><path stroke="#3d9b89" d="M427.5 644.5V646.6"/><path stroke="#dc5c66" d="M428.5 645.1V647.1"/><path stroke="#3d9b89" d="M428.5 644.4V647.6M429.5 644.4V658.0M429.5 641.7V645.8"/><path stroke="#dc5c66" d="M430.5 642.9V645.3"/><path stroke="#3d9b89" d="M430.5 642.9V647.9M431.5 641.1V644.0"/><path stroke="#dc5c66" d="M431.5 640.8V642.8"/><path stroke="#3d9b89" d="M432.5 640.5V642.7M432.5 637.9V641.0M432.5 638.1V640.9"/><path stroke="#dc5c66" d="M433.5 637.9V639.7"/><path stroke="#3d9b89" d="M433.5 636.8V639.1"/><path stroke="#dc5c66" d="M434.5 637.1V638.4M434.5 636.4V639.6M435.5 638.6V640.0"/><path stroke="#3d9b89" d="M435.5 638.8V639.7"/><path stroke="#dc5c66" d="M436.5 638.6V641.6"/><path stroke="#3d9b89" d="M436.5 638.1V641.1"/><path stroke="#dc5c66" d="M436.5 638.8V641.6"/><path stroke="#3d9b89" d="M437.5 639.0V641.8M437.5 637.1V640.2M438.5 637.2V639.2M438.5 636.8V638.6M439.5 635.5V637.7"/><path stroke="#dc5c66" d="M439.5 633.7V640.4"/><path stroke="#3d9b89" d="M440.5 633.8V639.3M440.5 632.2V638.1M441.5 628.3V636.1M441.5 629.5V632.8M441.5 628.1V631.5M442.5 626.5V630.5M442.5 624.9V630.2M443.5 624.0V627.6"/><path stroke="#dc5c66" d="M443.5 624.7V629.8M444.5 626.8V629.5"/><path stroke="#3d9b89" d="M444.5 625.5V628.6"/><path stroke="#dc5c66" d="M445.5 625.9V629.8M445.5 627.5V633.1M445.5 629.5V637.4"/><path stroke="#3d9b89" d="M446.5 633.0V634.5"/><path stroke="#dc5c66" d="M446.5 632.3V643.2M447.5 640.0V649.8M447.5 646.6V658.1M448.5 652.7V667.5M448.5 663.4V669.7M449.5 666.9V671.9"/><path stroke="#3d9b89" d="M449.5 670.0V673.8M450.5 668.3V675.5M450.5 664.1V675.2M450.5 640.4V666.7M451.5 613.6V647.1M451.5 605.0V616.5M452.5 597.3V608.1M452.5 592.7V603.5"/><path stroke="#dc5c66" d="M453.5 557.6V598.9"/><path stroke="#3d9b89" d="M453.5 589.9V595.9"/><path stroke="#dc5c66" d="M454.5 591.3V605.7M454.5 599.8V620.2M455.5 615.9V626.6M455.5 625.3V629.3M455.5 625.5V631.3M456.5 629.2V632.9M456.5 631.7V634.4M457.5 632.1V639.0M457.5 634.7V647.6M458.5 639.5V648.8M458.5 643.2V649.7M459.5 646.1V650.4"/><path stroke="#3d9b89" d="M459.5 647.7V652.2"/><path stroke="#dc5c66" d="M459.5 647.0V651.6M460.5 649.4V652.1M460.5 649.0V653.2M461.5 651.6V654.5M461.5 652.2V653.4M462.5 650.6V654.6M462.5 653.3V658.3"/><path stroke="#3d9b89" d="M463.5 654.4V657.5"/><path stroke="#dc5c66" d="M463.5 655.3V656.1M464.5 654.3V657.9"/><path stroke="#3d9b89" d="M464.5 654.4V657.6"/><path stroke="#dc5c66" d="M464.5 656.4V658.6M465.5 657.7V660.9"/><path stroke="#3d9b89" d="M465.5 658.6V661.9M466.5 656.4V660.5M466.5 655.6V661.9M467.5 652.5V657.6M467.5 651.1V654.2"/><path stroke="#dc5c66" d="M468.5 650.0V653.1M468.5 651.1V656.7M469.5 653.8V660.5"/><path stroke="#3d9b89" d="M469.5 655.1V657.7"/><path stroke="#dc5c66" d="M469.5 655.9V659.7M470.5 659.0V660.3"/><path stroke="#3d9b89" d="M470.5 657.7V659.9"/><path stroke="#dc5c66" d="M471.5 658.0V660.8"/><path stroke="#3d9b89" d="M471.5 659.4V661.7M472.5 657.2V660.7M472.5 655.9V658.7M473.5 656.2V658.5M473.5 654.3V657.3M473.5 655.4V656.9M474.5 654.6V655.9"/><path stroke="#dc5c66" d="M474.5 654.5V656.4M475.5 654.9V659.9"/><path stroke="#3d9b89" d="M475.5 653.0V658.2"/><path stroke="#dc5c66" d="M476.5 654.6V659.3"/><path stroke="#3d9b89" d="M476.5 657.4V660.3"/><path stroke="#dc5c66" d="M477.5 657.5V662.3"/><path stroke="#3d9b89" d="M477.5 658.9V664.3"/><path stroke="#dc5c66" d="M478.5 660.6V664.0"/><path stroke="#3d9b89" d="M478.5 660.7V664.4"/><path stroke="#dc5c66" d="M478.5 661.4V665.4M479.5 662.9V666.7"/><path stroke="#3d9b89" d="M479.5 665.5V667.2M480.5 663.0V667.2M480.5 664.1V665.2M481.5 662.8V664.5M481.5 662.5V664.5M482.5 663.2V663.6M482.5 662.8V664.6"/><path stroke="#dc5c66" d="M483.5 661.9V663.9"/><path stroke="#3d9b89" d="M483.5 662.9V664.6"/><path stroke="#dc5c66" d="M483.5 662.2V664.0"/><path stroke="#3d9b89" d="M484.5 662.8V664.2"/><path stroke="#dc5c66" d="M484.5 663.0V663.8"/><path stroke="#3d9b89" d="M485.5 662.8V663.3"/><path stroke="#dc5c66" d="M485.5 661.3V663.7"/><path stroke="#3d9b89" d="M486.5 661.1V663.9M486.5 658.7V663.6"/><path stroke="#dc5c66" d="M487.5 658.8V664.4"/><path stroke="#3d9b89" d="M487.5 655.4V664.3M487.5 652.1V658.5M488.5 650.6V655.8"/><path stroke="#dc5c66" d="M488.5 649.0V653.7M489.5 653.1V654.8"/><path stroke="#3d9b89" d="M489.5 653.4V656.8"/><path stroke="#dc5c66" d="M490.5 653.7V658.5M490.5 656.2V658.7"/><path stroke="#3d9b89" d="M491.5 657.3V657.9"/><path stroke="#dc5c66" d="M491.5 656.0V661.0M492.5 659.9V662.6"/><path stroke="#3d9b89" d="M492.5 659.6V661.8M492.5 659.3V661.4"/><path stroke="#dc5c66" d="M493.5 659.9V661.1M493.5 658.3V661.4"/><path stroke="#3d9b89" d="M494.5 660.1V662.6"/><path stroke="#dc5c66" d="M494.5 659.7V663.1"/><path stroke="#3d9b89" d="M495.5 657.8V662.5M495.5 654.7V659.9"/><path stroke="#dc5c66" d="M496.5 655.7V658.0"/><path stroke="#3d9b89" d="M496.5 655.1V657.5M497.5 648.8V658.6M497.5 646.2V651.7"/><path stroke="#dc5c66" d="M497.5 647.4V649.7"/><path stroke="#3d9b89" d="M498.5 644.7V650.8"/><path stroke="#dc5c66" d="M498.5 649.3V651.7M499.5 650.8V653.1M499.5 649.2V657.1M500.5 652.7V654.2M500.5 653.3V656.2M501.5 653.3V657.0M501.5 655.2V656.6"/><path stroke="#3d9b89" d="M501.5 653.1V656.6"/><path stroke="#dc5c66" d="M502.5 653.1V655.3"/><path stroke="#3d9b89" d="M502.5 653.8V655.9M503.5 653.7V655.2"/><path stroke="#dc5c66" d="M503.5 652.7V657.1"/><path stroke="#3d9b89" d="M504.5 652.9V654.5"/><path stroke="#dc5c66" d="M504.5 652.7V654.3M505.5 653.7V655.4"/><path stroke="#3d9b89" d="M505.5 651.8V654.7M506.5 651.7V652.9"/><path stroke="#dc5c66" d="M506.5 651.8V653.9"/><path stroke="#3d9b89" d="M506.5 651.5V654.1M507.5 648.9V652.5M507.5 644.5V651.5"/><path stroke="#dc5c66" d="M508.5 643.7V652.9"/><path stroke="#3d9b89" d="M508.5 649.6V652.8M509.5 646.6V651.1M509.5 642.2V647.2M510.5 637.9V645.1M510.5 632.8V639.9"/><path stroke="#dc5c66" d="M511.5 634.8V640.6M511.5 631.0V639.3"/><path stroke="#3d9b89" d="M511.5 636.6V638.8"/><path stroke="#dc5c66" d="M512.5 635.2V642.0"/><path stroke="#3d9b89" d="M512.5 638.3V640.9"/><path stroke="#dc5c66" d="M513.5 636.7V641.7M513.5 639.8V643.1M514.5 640.6V648.0M514.5 643.8V648.8M515.5 645.5V647.7M515.5 644.8V651.5M515.5 650.1V654.7"/><path stroke="#3d9b89" d="M516.5 651.6V652.8"/><path stroke="#dc5c66" d="M516.5 651.3V655.1"/><path stroke="#3d9b89" d="M517.5 653.4V656.2M517.5 651.9V655.7M518.5 651.3V652.9M518.5 650.9V652.5M519.5 650.2V652.2"/><path stroke="#dc5c66" d="M519.5 648.1V652.4M520.5 649.4V652.6M520.5 652.1V654.0M520.5 652.4V654.0"/><path stroke="#3d9b89" d="M521.5 653.1V653.2M521.5 651.2V653.2"/><path stroke="#dc5c66" d="M522.5 651.2V652.6"/><path stroke="#3d9b89" d="M522.5 648.3V652.3M523.5 647.9V649.8M523.5 645.3V648.8"/><path stroke="#dc5c66" d="M524.5 644.7V647.4M524.5 645.7V647.5M525.5 645.6V648.9M525.5 646.6V650.3M525.5 648.7V651.4M526.5 648.7V650.5"/><path stroke="#3d9b89" d="M526.5 647.4V651.4"/><path stroke="#dc5c66" d="M527.5 648.4V650.7M527.5 649.0V650.8M528.5 650.6V652.4"/><path stroke="#3d9b89" d="M528.5 644.4V651.2"/><path stroke="#dc5c66" d="M529.5 646.9V650.9"/><path stroke="#3d9b89" d="M529.5 646.0V648.6M529.5 643.5V647.7"/><path stroke="#dc5c66" d="M530.5 643.5V644.5M530.5 642.6V647.7"/><path stroke="#3d9b89" d="M531.5 641.8V647.7"/><path stroke="#dc5c66" d="M531.5 641.5V650.8"/><path stroke="#3d9b89" d="M532.5 646.3V652.3M532.5 644.6V647.6"/><path stroke="#dc5c66" d="M533.5 640.0V657.8M533.5 649.0V655.9M534.5 651.0V660.7M534.5 656.8V671.9"/><path stroke="#3d9b89" d="M534.5 661.8V666.9M535.5 664.8V668.8M535.5 663.7V666.5M536.5 662.6V664.5"/><path stroke="#dc5c66" d="M536.5 662.7V667.3"/><path stroke="#3d9b89" d="M537.5 661.9V666.9M537.5 660.2V663.8M538.5 659.9V662.7M538.5 659.4V661.7"/><path stroke="#dc5c66" d="M539.5 658.5V660.7"/><path stroke="#3d9b89" d="M539.5 657.0V661.5M539.5 657.9V660.6"/><path stroke="#dc5c66" d="M540.5 657.3V662.5M540.5 658.4V664.0M541.5 662.5V665.1M541.5 661.9V664.8M542.5 659.8V667.5M542.5 664.5V667.5"/><path stroke="#3d9b89" d="M543.5 664.7V667.8"/><path stroke="#dc5c66" d="M543.5 666.0V670.9"/><path stroke="#3d9b89" d="M543.5 669.7V672.2M544.5 668.3V671.0"/><path stroke="#dc5c66" d="M544.5 667.9V668.7M545.5 667.9V669.8"/><path stroke="#3d9b89" d="M545.5 668.2V669.0M546.5 667.0V669.0M546.5 665.4V668.7"/><path stroke="#dc5c66" d="M547.5 666.6V668.1"/><path stroke="#3d9b89" d="M547.5 665.0V667.5"/><path stroke="#dc5c66" d="M548.5 666.0V668.3"/><path stroke="#3d9b89" d="M548.5 666.7V668.7"/><path stroke="#dc5c66" d="M548.5 667.1V668.5M549.5 667.2V668.2M549.5 667.9V671.2"/><path stroke="#3d9b89" d="M550.5 667.4V670.5M550.5 667.3V668.2M551.5 666.6V668.7M551.5 665.3V667.9"/><path stroke="#dc5c66" d="M552.5 663.9V667.3M552.5 664.7V669.0M553.5 666.4V669.8M553.5 667.5V670.3M553.5 668.8V671.2M554.5 669.7V672.4"/><path stroke="#3d9b89" d="M554.5 670.8V674.4"/><path stroke="#dc5c66" d="M555.5 670.5V674.7"/><path stroke="#3d9b89" d="M555.5 671.1V673.6"/><path stroke="#dc5c66" d="M556.5 671.0V673.0"/><path stroke="#3d9b89" d="M556.5 671.1V672.9"/><path stroke="#dc5c66" d="M557.5 671.1V671.4"/><path stroke="#3d9b89" d="M557.5 668.7V672.0M557.5 669.0V671.1M558.5 667.6V669.4M558.5 666.4V670.0"/><path stroke="#dc5c66" d="M559.5 666.7V668.3"/><path stroke="#3d9b89" d="M559.5 666.0V668.1"/><path stroke="#dc5c66" d="M560.5 665.9V666.5"/><path stroke="#3d9b89" d="M560.5 665.1V666.9"/><path stroke="#dc5c66" d="M561.5 665.5V667.4M561.5 666.2V666.9M562.5 666.5V667.6"/><path stroke="#3d9b89" d="M562.5 666.2V667.1M562.5 664.8V667.1M563.5 664.3V666.2"/><path stroke="#dc5c66" d="M563.5 665.1V666.4"/><path stroke="#3d9b89" d="M564.5 664.6V666.3M564.5 663.2V665.8"/><path stroke="#dc5c66" d="M565.5 662.1V664.7"/><path stroke="#3d9b89" d="M565.5 662.7V664.8"/><path stroke="#dc5c66" d="M566.5 663.3V665.3M566.5 662.7V665.8M567.5 663.5V667.3M567.5 666.1V667.2"/><path stroke="#3d9b89" d="M567.5 665.9V667.6"/><path stroke="#dc5c66" d="M568.5 666.4V668.7M568.5 666.8V668.4M569.5 667.9V668.7"/><path stroke="#3d9b89" d="M569.5 666.4V669.3"/><path stroke="#dc5c66" d="M570.5 666.8V669.1"/><path stroke="#3d9b89" d="M570.5 666.6V669.7M571.5 665.4V668.2M571.5 664.3V667.0"/><path stroke="#dc5c66" d="M571.5 663.5V666.9"/><path stroke="#3d9b89" d="M572.5 663.2V666.6M572.5 661.5V665.1M573.5 660.7V662.6M573.5 659.8V663.4M574.5 657.9V661.0M574.5 657.4V659.9"/><path stroke="#dc5c66" d="M575.5 657.3V661.2M575.5 655.6V661.7M576.5 656.5V663.7M576.5 661.3V666.0M576.5 664.0V667.4M577.5 666.6V668.1M577.5 666.1V668.2M578.5 666.2V668.8"/><path stroke="#3d9b89" d="M578.5 665.9V668.8"/><path stroke="#dc5c66" d="M579.5 665.6V667.6"/><path stroke="#3d9b89" d="M579.5 665.8V667.2"/><path stroke="#dc5c66" d="M580.5 663.7V667.9M580.5 666.5V670.5M581.5 666.9V670.2M581.5 664.4V670.6"/><path stroke="#3d9b89" d="M581.5 668.3V671.0"/><path stroke="#dc5c66" d="M582.5 668.6V670.6M582.5 669.3V673.2"/><path stroke="#3d9b89" d="M583.5 670.0V678.8"/><path stroke="#dc5c66" d="M583.5 671.5V677.8M584.5 674.2V683.9M584.5 678.5V782.0M585.5 698.1V715.6"/><path stroke="#3d9b89" d="M585.5 713.0V721.6M585.5 707.7V715.1"/><path stroke="#dc5c66" d="M586.5 708.3V710.8"/><path stroke="#3d9b89" d="M586.5 708.0V711.2M587.5 706.4V710.6"/><path stroke="#dc5c66" d="M587.5 705.8V708.1"/><path stroke="#3d9b89" d="M588.5 701.6V708.4M588.5 702.9V706.6M589.5 695.4V706.8"/><path stroke="#dc5c66" d="M589.5 698.7V702.7"/><path stroke="#3d9b89" d="M590.5 694.4V702.1"/><path stroke="#dc5c66" d="M590.5 695.3V700.3"/><path stroke="#3d9b89" d="M590.5 692.4V698.0"/><path stroke="#dc5c66" d="M591.5 689.6V696.9M591.5 694.1V701.0M592.5 695.1V704.0M592.5 699.7V706.5M593.5 704.6V708.3M593.5 704.4V710.0"/><path stroke="#3d9b89" d="M594.5 705.9V710.2M594.5 703.3V708.1M595.5 699.7V704.0"/><path stroke="#dc5c66" d="M595.5 700.5V702.8"/><path stroke="#3d9b89" d="M595.5 699.7V701.9M596.5 698.2V701.3M596.5 698.7V702.0M597.5 688.0V701.7"/><path stroke="#dc5c66" d="M597.5 694.2V699.5"/><path stroke="#3d9b89" d="M598.5 698.0V699.5"/><path stroke="#dc5c66" d="M598.5 698.4V702.3"/><path stroke="#3d9b89" d="M599.5 701.2V702.9M599.5 697.7V702.0M599.5 695.1V700.8M600.5 693.1V696.2"/><path stroke="#dc5c66" d="M600.5 690.2V697.3M601.5 693.7V702.4M601.5 697.6V704.2M602.5 702.9V703.6M602.5 702.4V708.3"/><path stroke="#3d9b89" d="M603.5 702.8V712.0M603.5 688.5V703.9"/><path stroke="#dc5c66" d="M604.5 636.0V691.9"/><path stroke="#3d9b89" d="M604.5 677.8V688.1"/><path stroke="#dc5c66" d="M604.5 679.8V683.9M605.5 679.2V686.1"/><path stroke="#3d9b89" d="M605.5 684.7V688.9"/><path stroke="#dc5c66" d="M606.5 682.7V692.8M606.5 689.4V692.0M607.5 690.4V692.9"/><path stroke="#3d9b89" d="M607.5 689.3V696.9"/><path stroke="#dc5c66" d="M608.5 689.7V696.7"/><path stroke="#3d9b89" d="M608.5 691.2V696.0"/><path stroke="#dc5c66" d="M609.5 690.2V697.3"/><path stroke="#3d9b89" d="M609.5 694.4V696.8"/><path stroke="#dc5c66" d="M609.5 695.9V700.6"/><path stroke="#3d9b89" d="M610.5 697.3V700.3M610.5 696.5V698.1M611.5 694.6V697.3M611.5 694.5V698.2"/><path stroke="#dc5c66" d="M612.5 695.3V699.5M612.5 696.9V700.7M613.5 699.1V702.6"/><path stroke="#3d9b89" d="M613.5 697.9V702.0M613.5 695.5V699.2"/><path stroke="#dc5c66" d="M614.5 697.1V698.3"/><path stroke="#3d9b89" d="M614.5 694.3V698.7M615.5 694.5V696.9"/><path stroke="#dc5c66" d="M615.5 694.5V696.7"/><path stroke="#3d9b89" d="M616.5 694.2V696.4M616.5 691.8V696.2"/><path stroke="#dc5c66" d="M617.5 691.9V695.4M617.5 693.6V694.6M618.5 693.7V695.0M618.5 693.3V697.0"/><path stroke="#3d9b89" d="M618.5 693.7V696.9M619.5 693.3V694.4M619.5 692.8V694.0M620.5 690.9V696.3M620.5 689.1V692.4"/><path stroke="#dc5c66" d="M621.5 688.3V692.7"/><path stroke="#3d9b89" d="M621.5 689.4V694.2"/><path stroke="#dc5c66" d="M622.5 688.9V692.8"/><path stroke="#3d9b89" d="M622.5 689.0V695.3M623.5 687.3V692.1M623.5 684.5V691.7M623.5 683.1V687.0M624.5 677.7V688.4"/><path stroke="#dc5c66" d="M624.5 680.7V685.6"/><path stroke="#3d9b89" d="M625.5 678.7V685.6"/><path stroke="#dc5c66" d="M625.5 679.6V680.1M626.5 678.9V683.1"/><path stroke="#3d9b89" d="M626.5 677.7V681.6M627.5 678.1V681.1M627.5 677.0V679.2M627.5 674.2V678.7"/><path stroke="#dc5c66" d="M628.5 673.6V676.1M628.5 674.0V680.2M629.5 677.1V681.8"/><path stroke="#3d9b89" d="M629.5 678.6V682.0"/><path stroke="#dc5c66" d="M630.5 679.1V680.7M630.5 678.3V682.0"/><path stroke="#3d9b89" d="M631.5 680.6V682.3"/><path stroke="#dc5c66" d="M631.5 680.3V681.9M632.5 677.6V684.0M632.5 681.9V684.4M632.5 682.6V685.3M633.5 682.8V686.9M633.5 684.1V686.9M634.5 682.4V691.3M634.5 685.5V691.7M635.5 688.0V689.5M635.5 686.5V690.7M636.5 687.9V695.4M636.5 690.7V696.4"/><path stroke="#3d9b89" d="M637.5 693.5V696.2"/><path stroke="#dc5c66" d="M637.5 693.4V699.1M637.5 692.8V697.6M638.5 695.7V703.1"/><path stroke="#3d9b89" d="M638.5 699.3V704.1M639.5 699.8V702.0M639.5 694.8V702.0M640.5 697.1V698.4"/><path stroke="#dc5c66" d="M640.5 696.6V699.2"/><path stroke="#3d9b89" d="M641.5 697.7V699.4M641.5 696.0V699.1M641.5 695.9V699.5"/><path stroke="#dc5c66" d="M642.5 696.3V697.9"/><path stroke="#3d9b89" d="M642.5 695.3V697.2M643.5 695.2V697.5"/><path stroke="#dc5c66" d="M643.5 695.8V697.8"/><path stroke="#3d9b89" d="M644.5 694.8V697.1"/><path stroke="#dc5c66" d="M644.5 696.1V697.3M645.5 695.2V696.7"/><path stroke="#3d9b89" d="M645.5 692.4V698.3"/><path stroke="#dc5c66" d="M646.5 692.1V696.7"/><path stroke="#3d9b89" d="M646.5 694.7V696.8"/><path stroke="#dc5c66" d="M646.5 693.0V696.1M647.5 695.8V700.1"/><path stroke="#3d9b89" d="M647.5 694.3V699.8"/><path stroke="#dc5c66" d="M648.5 698.3V701.2M648.5 698.7V707.3M649.5 703.4V706.7M649.5 704.9V710.4"/><path stroke="#3d9b89" d="M650.5 696.3V708.2M650.5 697.8V703.0M651.5 692.3V702.1M651.5 689.0V695.1M651.5 691.9V695.2"/><path stroke="#dc5c66" d="M652.5 692.2V694.5"/><path stroke="#3d9b89" d="M652.5 691.0V693.0M653.5 689.1V692.8"/><path stroke="#dc5c66" d="M653.5 689.0V692.3M654.5 688.9V696.6M654.5 692.3V694.6M655.5 694.2V696.5M655.5 693.0V696.9M655.5 694.4V697.3M656.5 695.5V700.2M656.5 696.9V702.8M657.5 700.5V704.1"/><path stroke="#3d9b89" d="M657.5 700.8V704.2M658.5 695.8V702.4"/><path stroke="#dc5c66" d="M658.5 697.7V699.7"/><path stroke="#3d9b89" d="M659.5 693.1V699.7"/><path stroke="#dc5c66" d="M659.5 693.9V696.7"/><path stroke="#3d9b89" d="M660.5 691.9V697.3"/><path stroke="#dc5c66" d="M660.5 689.8V694.4M660.5 691.7V696.4M661.5 692.9V699.8M661.5 698.6V700.3M662.5 698.3V704.7"/><path stroke="#3d9b89" d="M662.5 699.1V702.2M663.5 698.2V700.9"/><path stroke="#dc5c66" d="M663.5 697.4V700.7"/><path stroke="#3d9b89" d="M664.5 699.6V701.6"/><path stroke="#dc5c66" d="M664.5 699.7V701.6M665.5 700.1V700.6"/><path stroke="#3d9b89" d="M665.5 698.7V701.9"/><path stroke="#dc5c66" d="M665.5 699.1V699.8M666.5 699.5V700.1"/><path stroke="#3d9b89" d="M666.5 698.3V700.3M667.5 697.8V700.3M667.5 698.0V700.0M668.5 695.0V698.5"/><path stroke="#dc5c66" d="M668.5 695.8V697.3"/><path stroke="#3d9b89" d="M669.5 694.9V697.3"/><path stroke="#dc5c66" d="M669.5 690.5V698.0M669.5 695.7V698.6"/><path stroke="#3d9b89" d="M670.5 697.0V697.3"/><path stroke="#dc5c66" d="M670.5 695.7V697.8M671.5 695.3V698.2M671.5 697.3V703.6M672.5 698.4V703.4"/><path stroke="#3d9b89" d="M672.5 701.6V708.7"/><path stroke="#dc5c66" d="M673.5 700.0V704.6"/><path stroke="#3d9b89" d="M673.5 700.4V706.2"/><path stroke="#dc5c66" d="M674.5 702.5V710.7M674.5 706.5V707.8M674.5 703.1V710.0M675.5 706.7V713.6M675.5 711.4V712.8M676.5 712.5V715.9M676.5 714.0V721.9M677.5 718.7V725.1M677.5 720.5V727.1"/><path stroke="#3d9b89" d="M678.5 717.9V723.6"/><path stroke="#dc5c66" d="M678.5 720.3V723.8M679.5 719.8V724.6"/><path stroke="#3d9b89" d="M679.5 722.8V724.2M679.5 721.9V723.0"/><path stroke="#dc5c66" d="M680.5 721.8V722.8"/><path stroke="#3d9b89" d="M680.5 721.2V722.3"/><path stroke="#dc5c66" d="M681.5 721.1V722.8M681.5 721.3V723.2M682.5 722.6V723.3"/><path stroke="#3d9b89" d="M682.5 722.2V723.5"/><path stroke="#dc5c66" d="M683.5 721.8V724.2M683.5 721.5V727.0M683.5 724.7V726.5M684.5 725.4V728.4"/><path stroke="#3d9b89" d="M684.5 726.3V728.2"/><path stroke="#dc5c66" d="M685.5 724.9V730.7"/><path stroke="#3d9b89" d="M685.5 726.6V730.4M686.5 728.4V728.8"/><path stroke="#dc5c66" d="M686.5 726.8V730.5M687.5 727.9V731.9"/><path stroke="#3d9b89" d="M687.5 728.5V730.1"/><path stroke="#dc5c66" d="M688.5 728.6V731.0M688.5 730.1V731.7"/><path stroke="#3d9b89" d="M688.5 729.4V731.1"/><path stroke="#dc5c66" d="M689.5 728.5V731.6"/><path stroke="#3d9b89" d="M689.5 730.4V732.5"/><path stroke="#dc5c66" d="M690.5 730.3V732.5"/><path stroke="#3d9b89" d="M690.5 728.5V732.6"/><path stroke="#dc5c66" d="M691.5 727.3V730.3"/><path stroke="#3d9b89" d="M691.5 727.0V731.2M692.5 726.4V729.7M692.5 726.7V728.3M693.5 723.6V729.8"/><path stroke="#dc5c66" d="M693.5 721.3V728.6M693.5 722.9V729.4M694.5 727.7V731.9"/><path stroke="#3d9b89" d="M694.5 727.5V729.8M695.5 723.4V729.6"/><path stroke="#dc5c66" d="M695.5 720.7V730.6M696.5 730.4V734.3M696.5 731.6V739.7M697.5 736.7V750.7"/><path stroke="#3d9b89" d="M697.5 736.4V742.5M697.5 736.7V738.1"/><path stroke="#dc5c66" d="M698.5 736.8V737.7M698.5 736.1V739.4M699.5 738.1V740.5M699.5 740.0V741.9"/><path stroke="#3d9b89" d="M700.5 739.1V741.9M700.5 738.0V740.7"/><path stroke="#dc5c66" d="M701.5 737.5V738.5"/><path stroke="#3d9b89" d="M701.5 735.5V739.1"/><path stroke="#dc5c66" d="M702.5 733.8V737.1M702.5 735.3V736.7M702.5 735.8V741.8M703.5 739.4V741.4M703.5 739.4V745.7M704.5 742.0V746.8M704.5 743.8V750.3M705.5 742.8V751.5"/><path stroke="#3d9b89" d="M705.5 745.0V750.0"/><path stroke="#dc5c66" d="M706.5 747.3V753.4"/><path stroke="#3d9b89" d="M706.5 750.2V751.6"/><path stroke="#dc5c66" d="M707.5 750.0V755.6"/><path stroke="#3d9b89" d="M707.5 752.1V754.4"/><path stroke="#dc5c66" d="M707.5 752.4V755.9M708.5 754.1V755.3"/><path stroke="#3d9b89" d="M708.5 753.9V756.8M709.5 753.6V755.6M709.5 750.6V754.5M710.5 751.4V753.8M710.5 750.0V753.0M711.5 749.4V751.3"/><path stroke="#dc5c66" d="M711.5 747.5V754.1M711.5 752.5V755.9M712.5 752.7V776.4M712.5 755.3V759.9"/><path stroke="#3d9b89" d="M713.5 757.7V758.9"/><path stroke="#dc5c66" d="M713.5 757.0V760.3M714.5 757.8V760.4"/><path stroke="#3d9b89" d="M714.5 759.2V760.8"/><path stroke="#dc5c66" d="M715.5 759.2V761.9M715.5 760.0V761.5M716.5 760.3V761.1M716.5 760.1V762.1M716.5 761.0V763.2M717.5 761.1V763.4"/><path stroke="#3d9b89" d="M717.5 761.7V763.4"/><path stroke="#dc5c66" d="M718.5 762.0V763.8"/><path stroke="#3d9b89" d="M718.5 761.5V763.7"/><path stroke="#dc5c66" d="M719.5 760.8V762.1"/><path stroke="#3d9b89" d="M719.5 761.2V762.1M720.5 760.5V761.7"/><path stroke="#dc5c66" d="M720.5 758.8V762.8"/><path stroke="#3d9b89" d="M721.5 758.7V764.1"/><path stroke="#dc5c66" d="M721.5 759.4V761.6"/><path stroke="#3d9b89" d="M721.5 757.4V764.7"/><path stroke="#dc5c66" d="M722.5 752.0V762.2M722.5 760.4V765.0M723.5 762.4V768.7M723.5 762.7V766.8M724.5 763.7V768.7M724.5 766.0V771.9M725.5 769.7V771.4"/><path stroke="#3d9b89" d="M725.5 767.9V770.4"/><path stroke="#dc5c66" d="M725.5 766.6V771.7"/><path stroke="#3d9b89" d="M726.5 769.1V771.1M726.5 768.8V769.7M727.5 768.4V769.6M727.5 767.1V769.6M728.5 766.7V768.9"/><path stroke="#dc5c66" d="M728.5 767.2V768.3M729.5 767.6V769.0"/><path stroke="#3d9b89" d="M729.5 767.6V769.4"/><path stroke="#dc5c66" d="M730.5 767.5V769.0"/><path stroke="#3d9b89" d="M730.5 766.9V769.2M730.5 766.2V767.8"/><path stroke="#dc5c66" d="M731.5 766.3V768.0M731.5 766.1V768.1"/><path stroke="#3d9b89" d="M732.5 766.3V768.4M732.5 767.4V767.8"/><path stroke="#dc5c66" d="M733.5 767.5V768.5"/><path stroke="#3d9b89" d="M733.5 767.2V768.9"/><path stroke="#dc5c66" d="M734.5 766.8V769.6"/><path stroke="#3d9b89" d="M734.5 766.8V770.0"/><path stroke="#dc5c66" d="M735.5 767.6V770.4M735.5 768.6V771.5M735.5 769.6V771.6M736.5 770.5V775.0M736.5 771.5V773.1"/><path stroke="#3d9b89" d="M737.5 769.2V774.2M737.5 767.6V771.7"/><path stroke="#dc5c66" d="M738.5 767.2V770.9"/><path stroke="#3d9b89" d="M738.5 767.8V771.0"/><path stroke="#dc5c66" d="M739.5 768.0V772.7"/><path stroke="#3d9b89" d="M739.5 764.2V773.6M739.5 761.0V767.5M740.5 738.0V763.2M740.5 691.6V739.4M741.5 665.0V700.2"/><path stroke="#dc5c66" d="M741.5 668.2V674.6M742.5 672.9V688.7M742.5 683.0V698.6M743.5 693.5V703.3M743.5 702.0V719.0"/><path stroke="#3d9b89" d="M744.5 704.1V712.4M744.5 696.8V706.4M744.5 690.4V705.3M745.5 682.0V695.9M745.5 667.9V682.4M746.5 654.0V670.7"/><path stroke="#dc5c66" d="M746.5 654.7V666.0M747.5 665.3V673.9M747.5 671.1V685.3M748.5 678.1V685.2"/><path stroke="#3d9b89" d="M748.5 663.2V684.9M749.5 657.8V666.6M749.5 649.6V662.1M749.5 641.0V651.9M750.5 640.5V646.9"/><path stroke="#dc5c66" d="M750.5 638.3V651.2M751.5 649.4V652.1M751.5 647.7V657.7M752.5 655.3V663.2M752.5 660.9V665.9M753.5 661.2V673.0M753.5 671.1V676.8M753.5 673.5V682.4M754.5 674.9V680.2M754.5 678.3V690.1M755.5 687.1V693.9"/><path stroke="#3d9b89" d="M755.5 686.7V701.0M756.5 681.7V690.0M756.5 673.3V685.4M757.5 669.5V678.2"/><path stroke="#dc5c66" d="M757.5 665.4V676.0M758.5 673.5V680.1M758.5 675.6V682.9M758.5 680.1V684.5"/><path stroke="#3d9b89" d="M759.5 675.7V685.6M759.5 670.9V679.3M760.5 649.0V674.1M760.5 620.9V652.6M761.5 612.0V628.0"/><path stroke="#dc5c66" d="M761.5 619.2V633.4M762.5 629.4V641.8"/><path stroke="#3d9b89" d="M762.5 639.3V643.4M763.5 623.2V641.7M763.5 603.6V625.4M763.5 592.5V607.1M764.5 568.5V598.3M764.5 592.5V597.9"/><path stroke="#dc5c66" d="M765.5 592.0V598.5M765.5 595.9V603.4M766.5 597.5V608.0M766.5 604.4V610.5M767.5 609.1V612.2"/><path stroke="#3d9b89" d="M767.5 606.3V615.3M767.5 600.7V612.2M768.5 595.8V602.9M768.5 595.9V601.7"/><path stroke="#dc5c66" d="M769.5 591.0V603.6M769.5 598.4V607.0M770.5 605.3V619.5M770.5 617.4V631.7M771.5 628.8V637.3"/><path stroke="#3d9b89" d="M771.5 625.9V637.5M772.5 621.2V627.5"/><path stroke="#dc5c66" d="M772.5 622.2V631.9M772.5 627.3V643.4"/><path stroke="#3d9b89" d="M773.5 618.2V640.9M773.5 603.6V621.9M774.5 585.0V612.7"/><path stroke="#dc5c66" d="M774.5 605.9V618.7M775.5 609.1V632.9M775.5 629.3V646.1M776.5 639.3V660.1M776.5 657.7V667.5"/><path stroke="#3d9b89" d="M777.5 661.3V666.9M777.5 655.3V664.5"/><path stroke="#dc5c66" d="M777.5 656.1V668.9M778.5 662.6V673.2M778.5 668.2V679.1M779.5 674.6V684.0"/><path stroke="#3d9b89" d="M779.5 664.3V677.9M780.5 665.3V669.4"/><path stroke="#dc5c66" d="M780.5 664.9V670.0M781.5 668.8V673.3"/><path stroke="#3d9b89" d="M781.5 671.6V674.2M781.5 670.0V677.4M782.5 666.5V673.7M782.5 664.1V671.4M783.5 660.8V667.5"/><path stroke="#dc5c66" d="M783.5 660.1V669.7M784.5 666.9V676.7M784.5 670.6V679.3"/><path stroke="#3d9b89" d="M785.5 675.4V680.9"/><path stroke="#dc5c66" d="M785.5 674.2V681.2M786.5 678.0V683.7"/><path stroke="#3d9b89" d="M786.5 679.2V681.9M786.5 675.3V680.2"/><path stroke="#dc5c66" d="M787.5 675.3V678.8M787.5 674.6V684.0"/><path stroke="#3d9b89" d="M788.5 676.5V680.2"/><path stroke="#dc5c66" d="M788.5 673.4V683.6M789.5 681.3V689.9M789.5 684.3V691.0M790.5 684.7V692.7M790.5 688.7V692.1"/><path stroke="#3d9b89" d="M791.5 688.4V693.0"/><path stroke="#dc5c66" d="M791.5 687.6V694.0M791.5 692.0V694.6"/><path stroke="#3d9b89" d="M792.5 690.1V696.9M792.5 686.2V690.4M793.5 688.2V690.5M793.5 686.7V689.0"/><path stroke="#dc5c66" d="M794.5 686.8V691.1M794.5 689.2V691.6M795.5 691.4V693.1"/><path stroke="#3d9b89" d="M795.5 691.1V693.6"/><path stroke="#dc5c66" d="M795.5 691.1V694.4"/><path stroke="#3d9b89" d="M796.5 691.9V694.0"/><path stroke="#dc5c66" d="M796.5 690.6V694.1"/><path stroke="#3d9b89" d="M797.5 693.0V695.6"/><path stroke="#dc5c66" d="M797.5 693.1V696.2"/><path stroke="#3d9b89" d="M798.5 694.7V695.2"/><path stroke="#dc5c66" d="M798.5 693.4V696.9"/><path stroke="#3d9b89" d="M799.5 693.0V700.0M799.5 690.0V695.9M800.5 690.7V693.8M800.5 687.9V691.9"/><path stroke="#dc5c66" d="M800.5 687.6V690.7M801.5 688.3V693.4M801.5 688.8V698.4"/><path stroke="#3d9b89" d="M802.5 693.9V697.5"/><path stroke="#dc5c66" d="M802.5 693.4V695.0"/><path stroke="#3d9b89" d="M803.5 692.6V695.8M803.5 688.5V693.9M804.5 689.0V690.2M804.5 687.1V691.5M805.5 687.9V689.6"/><path stroke="#dc5c66" d="M805.5 686.7V690.5M805.5 687.9V694.0M806.5 690.3V694.6M806.5 689.8V695.4M807.5 692.9V698.4"/><path stroke="#3d9b89" d="M807.5 694.1V698.1"/><path stroke="#dc5c66" d="M808.5 693.9V699.5"/><path stroke="#3d9b89" d="M808.5 697.1V700.8M809.5 696.2V697.8"/><path stroke="#dc5c66" d="M809.5 696.9V698.6M809.5 697.0V700.0"/><path stroke="#3d9b89" d="M810.5 698.4V699.9M810.5 697.1V699.4M811.5 697.0V698.4M811.5 696.4V699.0M812.5 696.2V698.4"/><path stroke="#dc5c66" d="M812.5 695.6V699.0"/><path stroke="#3d9b89" d="M813.5 696.8V699.4M813.5 696.2V697.5M814.5 696.1V696.9M814.5 691.1V698.1M814.5 691.6V696.1"/><path stroke="#dc5c66" d="M815.5 691.7V694.4"/><path stroke="#3d9b89" d="M815.5 690.0V694.5M816.5 690.5V693.6M816.5 687.8V692.1"/><path stroke="#dc5c66" d="M817.5 689.3V690.6"/><path stroke="#3d9b89" d="M817.5 688.9V690.9"/><path stroke="#dc5c66" d="M818.5 689.6V693.3M818.5 689.2V694.1M819.5 691.2V695.7"/><path stroke="#3d9b89" d="M819.5 693.5V698.3M819.5 693.7V695.0"/><path stroke="#dc5c66" d="M820.5 693.2V696.4M820.5 693.2V697.3"/><path stroke="#3d9b89" d="M821.5 693.9V699.4"/><path stroke="#dc5c66" d="M821.5 692.5V695.3"/><path stroke="#3d9b89" d="M822.5 691.4V695.8M822.5 685.4V695.9M823.5 681.5V691.9M823.5 667.0V686.2"/><path stroke="#dc5c66" d="M823.5 679.8V680.9"/><path stroke="#3d9b89" d="M824.5 671.7V680.6"/><path stroke="#dc5c66" d="M824.5 673.7V683.4M825.5 674.6V688.7M825.5 684.7V689.5"/><path stroke="#3d9b89" d="M826.5 683.6V689.7M826.5 683.0V685.1M827.5 678.3V684.6"/><path stroke="#dc5c66" d="M827.5 678.3V682.2M828.5 680.7V686.6"/><path stroke="#3d9b89" d="M828.5 683.3V685.0"/><path stroke="#dc5c66" d="M828.5 681.2V686.1M829.5 683.1V690.0"/><path stroke="#3d9b89" d="M829.5 685.7V687.9"/><path stroke="#dc5c66" d="M830.5 686.7V688.8"/><path stroke="#3d9b89" d="M830.5 688.6V689.3"/><path stroke="#dc5c66" d="M831.5 688.0V690.3"/><path stroke="#3d9b89" d="M831.5 688.9V691.6M832.5 688.2V689.2M832.5 686.0V689.9M833.5 682.6V690.9M833.5 682.8V685.5"/><path stroke="#dc5c66" d="M833.5 682.4V688.1"/><path stroke="#3d9b89" d="M834.5 682.4V687.6M834.5 683.6V685.2M835.5 682.7V684.1"/><path stroke="#dc5c66" d="M835.5 682.8V683.7"/><path stroke="#3d9b89" d="M836.5 680.3V684.7M836.5 678.1V682.8M837.5 677.8V682.2M837.5 679.4V681.5M837.5 678.8V681.6M838.5 675.3V679.5"/><path stroke="#dc5c66" d="M838.5 677.3V679.1"/><path stroke="#3d9b89" d="M839.5 676.0V678.9M839.5 675.0V677.7M840.5 675.1V676.5"/><path stroke="#dc5c66" d="M840.5 674.2V677.6M841.5 676.0V681.7"/><path stroke="#3d9b89" d="M841.5 676.7V681.5"/><path stroke="#dc5c66" d="M842.5 675.5V681.1"/><path stroke="#3d9b89" d="M842.5 675.1V681.6M842.5 672.9V679.8M843.5 670.9V677.5M843.5 668.3V674.1M844.5 656.9V670.0M844.5 648.2V664.8M845.5 642.1V651.8M845.5 636.6V651.5M846.5 627.4V641.4M846.5 624.8V632.2M847.5 616.5V625.8M847.5 612.4V621.0M847.5 604.2V615.5M848.5 598.6V610.8M848.5 598.4V607.2M849.5 594.6V603.6"/><path stroke="#dc5c66" d="M849.5 597.5V603.8"/><path stroke="#3d9b89" d="M850.5 592.2V600.0"/><path stroke="#dc5c66" d="M850.5 591.5V598.8M851.5 595.3V606.4"/><path stroke="#3d9b89" d="M851.5 584.6V604.1M851.5 580.1V591.8M852.5 563.3V580.8M852.5 557.0V568.5"/><path stroke="#dc5c66" d="M853.5 559.2V574.2M853.5 571.2V582.5M854.5 576.3V585.4"/><path stroke="#3d9b89" d="M854.5 564.8V584.8M855.5 559.8V571.4M855.5 554.8V566.6M856.5 542.6V558.9M856.5 543.2V549.1M856.5 533.0V547.5M857.5 537.0V542.5M857.5 530.0V539.9"/><path stroke="#dc5c66" d="M858.5 529.2V540.2M858.5 539.3V547.8"/><path stroke="#3d9b89" d="M859.5 543.3V547.8"/><path stroke="#dc5c66" d="M859.5 541.9V548.0"/><path stroke="#3d9b89" d="M860.5 533.6V547.3M860.5 527.7V536.5M861.5 524.4V530.4M861.5 520.9V527.3"/><path stroke="#dc5c66" d="M861.5 521.1V525.2M862.5 481.0V533.0M862.5 527.2V534.8M863.5 530.8V545.8M863.5 543.6V563.8M864.5 558.7V575.2"/><path stroke="#3d9b89" d="M864.5 559.4V574.4M865.5 554.9V561.0"/><path stroke="#dc5c66" d="M865.5 553.0V567.0M865.5 564.0V572.9M866.5 569.1V582.7M866.5 577.7V586.5M867.5 584.7V590.5"/><path stroke="#3d9b89" d="M867.5 577.8V587.3M868.5 572.4V580.2M868.5 570.4V575.2M869.5 564.0V570.9M869.5 560.1V572.6"/><path stroke="#dc5c66" d="M870.5 558.5V564.0M870.5 560.6V567.1M870.5 564.5V569.8M871.5 561.7V571.2M871.5 569.2V575.4M872.5 572.5V577.5M872.5 573.3V581.3M873.5 576.2V578.1M873.5 577.8V581.3M874.5 575.0V583.2M874.5 579.6V585.9"/><path stroke="#3d9b89" d="M875.5 584.1V586.0"/><path stroke="#dc5c66" d="M875.5 582.3V586.5"/><path stroke="#3d9b89" d="M875.5 579.8V587.7M876.5 565.6V583.0M876.5 564.7V575.7"/><path stroke="#dc5c66" d="M877.5 566.7V570.5M877.5 568.6V573.7"/><path stroke="#3d9b89" d="M878.5 569.0V573.3"/><path stroke="#dc5c66" d="M878.5 569.1V579.2M879.5 575.8V580.9"/><path stroke="#3d9b89" d="M879.5 574.3V580.0"/><path stroke="#dc5c66" d="M879.5 574.9V578.7"/><path stroke="#3d9b89" d="M880.5 572.2V578.2M880.5 570.4V574.4M881.5 569.5V571.1M881.5 557.0V572.0"/><path stroke="#dc5c66" d="M882.5 567.6V572.1M882.5 570.5V572.8M883.5 571.9V576.2M883.5 568.7V579.1M884.5 576.5V580.5M884.5 574.6V582.8M884.5 578.9V584.2M885.5 580.9V584.5M885.5 582.7V586.1"/><path stroke="#3d9b89" d="M886.5 580.3V586.7M886.5 578.1V585.2"/><path stroke="#dc5c66" d="M887.5 579.4V580.9"/><path stroke="#3d9b89" d="M887.5 577.9V581.1M888.5 572.9V580.6M888.5 576.8V578.4M889.5 571.3V580.0M889.5 570.6V579.0M889.5 560.1V574.4M890.5 558.3V567.1M890.5 553.4V561.4"/><path stroke="#dc5c66" d="M891.5 557.2V564.7M891.5 558.9V566.8"/><path stroke="#3d9b89" d="M892.5 562.0V564.5"/><path stroke="#dc5c66" d="M892.5 562.0V569.4M893.5 565.1V569.9"/><path stroke="#3d9b89" d="M893.5 561.6V571.8M893.5 559.6V563.0M894.5 552.3V561.9"/><path stroke="#dc5c66" d="M894.5 554.7V557.3"/><path stroke="#3d9b89" d="M895.5 555.1V558.4"/><path stroke="#dc5c66" d="M895.5 553.9V567.0M896.5 560.5V574.7M896.5 571.2V577.5"/><path stroke="#3d9b89" d="M897.5 572.9V578.9M897.5 565.6V591.7"/><path stroke="#dc5c66" d="M898.5 564.9V570.2"/></g>
<path d="M192.6 610.0C193.8 609.8 197.6 609.0 200.0 608.5C202.4 608.0 205.2 607.3 207.0 607.0C208.8 606.7 209.2 606.6 211.0 606.6C212.8 606.6 216.0 606.7 218.0 606.8C220.0 606.9 221.0 607.0 223.0 607.3C225.0 607.6 227.2 608.1 230.0 608.8C232.8 609.5 237.3 610.5 240.0 611.3C242.7 612.1 242.7 612.8 246.0 613.8C249.3 614.8 256.0 616.4 260.0 617.3C264.0 618.2 265.8 618.3 270.0 619.0C274.2 619.7 280.0 620.9 285.0 621.7C290.0 622.5 294.2 623.1 300.0 623.8C305.8 624.4 313.3 625.0 320.0 625.6C326.7 626.2 333.3 627.0 340.0 627.6C346.7 628.2 355.8 628.7 360.0 629.0C364.2 629.3 363.3 629.1 365.0 629.4C366.7 629.7 368.3 630.2 370.0 630.9C371.7 631.6 373.3 632.6 375.0 633.5C376.7 634.4 377.8 635.5 380.0 636.5C382.2 637.5 385.5 638.9 388.0 639.3C390.5 639.7 392.2 639.3 395.0 638.9C397.8 638.5 401.7 637.4 405.0 636.8C408.3 636.2 412.5 635.7 415.0 635.5C417.5 635.3 417.5 635.2 420.0 635.4C422.5 635.6 426.7 636.3 430.0 636.5C433.3 636.7 437.3 636.9 440.0 636.8C442.7 636.7 444.2 635.8 446.0 636.1C447.8 636.4 449.0 638.7 450.5 638.7C452.0 638.7 453.4 636.4 455.0 636.1C456.6 635.8 457.5 636.0 460.0 636.8C462.5 637.6 466.7 639.8 470.0 641.1C473.3 642.4 476.7 643.8 480.0 644.8C483.3 645.8 486.7 646.5 490.0 647.2C493.3 647.9 496.7 648.5 500.0 648.9C503.3 649.3 506.7 649.5 510.0 649.5C513.3 649.5 516.7 649.4 520.0 649.2C523.3 649.0 527.5 648.3 530.0 648.4C532.5 648.5 532.5 648.9 535.0 649.6C537.5 650.3 541.7 651.5 545.0 652.5C548.3 653.5 551.7 654.7 555.0 655.5C558.3 656.3 561.7 656.9 565.0 657.4C568.3 657.9 572.0 658.2 575.0 658.8C578.0 659.4 580.5 659.7 583.0 660.8C585.5 661.9 587.7 663.9 590.0 665.3C592.3 666.7 594.7 668.0 597.0 669.3C599.3 670.5 601.5 671.7 604.0 672.8C606.5 673.9 609.3 674.9 612.0 675.8C614.7 676.7 617.0 677.5 620.0 678.1C623.0 678.8 626.7 678.9 630.0 679.7C633.3 680.5 636.7 681.8 640.0 682.7C643.3 683.6 646.7 684.2 650.0 685.0C653.3 685.8 657.2 686.6 660.0 687.2C662.8 687.8 664.7 688.3 667.0 688.8C669.3 689.3 671.8 689.5 674.0 690.2C676.2 691.0 677.3 691.8 680.0 693.3C682.7 694.8 686.7 697.3 690.0 699.2C693.3 701.1 696.7 702.7 700.0 704.8C703.3 706.9 706.7 709.3 710.0 711.7C713.3 714.1 716.7 716.8 720.0 719.3C723.3 721.8 727.2 724.5 730.0 726.5C732.8 728.5 735.3 730.4 737.0 731.6C738.7 732.8 739.3 733.8 740.3 733.7C741.3 733.6 741.9 732.8 743.0 731.2C744.1 729.6 746.0 726.0 747.0 724.2C748.0 722.4 748.3 721.6 749.0 720.3C749.7 719.0 750.2 717.6 751.0 716.6C751.8 715.6 752.8 715.2 754.0 714.0C755.2 712.8 756.7 711.6 758.0 709.4C759.3 707.2 760.8 704.2 762.0 701.0C763.2 697.8 763.8 693.6 765.0 689.9C766.2 686.2 767.7 681.5 769.0 678.7C770.3 675.9 771.8 674.4 773.0 673.2C774.2 672.0 774.8 671.7 776.0 671.3C777.2 670.9 778.5 670.9 780.0 671.0C781.5 671.1 783.3 671.3 785.0 671.7C786.7 672.1 787.5 672.3 790.0 673.2C792.5 674.1 796.7 675.8 800.0 676.9C803.3 678.0 806.7 679.0 810.0 680.0C813.3 681.0 817.3 682.1 820.0 682.6C822.7 683.1 824.3 683.2 826.0 683.3C827.7 683.4 828.0 683.1 830.0 683.0C832.0 682.9 835.7 682.7 838.0 682.5C840.3 682.3 842.5 682.4 844.0 681.8C845.5 681.2 846.0 680.6 847.0 679.0C848.0 677.4 849.0 674.8 850.0 672.0C851.0 669.2 852.0 665.8 853.0 662.3C854.0 658.8 855.0 655.1 856.0 651.2C857.0 647.3 858.1 642.4 859.0 638.7C859.9 635.0 860.7 631.7 861.5 628.9C862.3 626.1 862.9 624.1 864.0 622.0C865.1 619.9 866.7 618.0 868.0 616.4C869.3 614.8 870.5 613.7 872.0 612.3C873.5 610.9 875.2 609.4 877.0 608.0C878.8 606.6 881.2 605.0 883.0 603.9C884.8 602.8 886.5 602.0 888.0 601.1C889.5 600.2 890.7 599.2 892.0 598.3C893.3 597.4 894.9 596.3 896.0 595.6C897.1 594.9 898.1 594.3 898.5 594.0" fill="none" stroke="#3018dc" stroke-width="2.4" stroke-linejoin="round" stroke-linecap="round"/>
<!-- logo ring + teal circle -->
<circle cx="8.2" cy="6.8" r="3.9" fill="#4a9f9c"/>
<ellipse cx="8.6" cy="6.7" rx="1.7" ry="1.3" fill="#b5eeee"/>
<ellipse cx="3.6" cy="11.2" rx="3.1" ry="2.9" fill="none" stroke="#fff" stroke-width="3.4"/>
<ellipse cx="3.6" cy="11.2" rx="3.1" ry="2.9" fill="#fff" stroke="#0c0f0e" stroke-width="2.1"/>
<!-- status dot -->
<circle cx="287.7" cy="9.5" r="5.2" fill="#dbf0ea"/><circle cx="287.7" cy="9.5" r="2.4" fill="#2f9e87"/>
<!-- indicator row -->
<rect x="-2" y="49.5" width="22" height="14" fill="#fff" stroke="#e3e5ea" stroke-width="1"/>
<path d="M3.9 55.3l2.3 2.3l2.3-2.3" fill="none" stroke="#22252e" stroke-width="1.3"/>
<circle cx="38.4" cy="56.2" r="6" fill="#e8e0fd"/>
<g transform="translate(0.2,0.3)"><path d="M34.8 55.2a3.6 3.6 0 0 1 6.6-1.2M41.8 56.8a3.6 3.6 0 0 1-6.6 1.2" fill="none" stroke="#6a35f0" stroke-width="1.7"/>
<path d="M42.8 52.4l-0.6 3l-3-1zM33.8 59.6l0.6-3l3 1z" fill="#6a35f0"/></g>
<!-- TV logo -->
<path d="M2 823.3h7.9v10.2h-3.9v-6.6h-4zM19.2 833.5h-5.1l2.7-10.2h6z" fill="#111"/>
<circle cx="13.7" cy="825" r="1.8" fill="#111"/>
<!-- dino -->
<path d="M62.2 839.8L66 834.8Q68.5 832 72.5 832.6L74.6 832.8V829.3L72.6 829V827.2Q73 824.6 75.6 824.6Q78.4 824.6 78.5 828L78.6 835Q78.6 838 76 840V842.3H73V840.2H69.2V842.3H66.4V840Z" fill="none" stroke="#222" stroke-width="1.15" stroke-linejoin="round"/>
<!-- gear -->
<path d="M1249.9 855.1l2.65-4.6h5.3l2.65 4.6l-2.65 4.6h-5.3z" fill="none" stroke="#555a66" stroke-width="1.1" stroke-linejoin="round"/>
<circle cx="1255.2" cy="855.1" r="1.5" fill="none" stroke="#555a66" stroke-width="1"/>
<!-- USDT box -->
<rect x="1231.5" y="1.5" width="46" height="16.5" rx="2" fill="#fff" stroke="#eceef2" stroke-width="1"/>
<path d="M1270.9 9.6l1.9 1.8l1.9-1.8" fill="none" stroke="#30343f" stroke-width="1.2"/>
</svg>
<div id="title"><span style="left:0.35px;transform:scaleX(0.841)">FHE</span><span style="left:24.05px;transform:scaleX(1.267)">/</span><span style="left:31.95px;transform:scaleX(0.975)">TetherUS</span><span style="left:79.85px;transform:scaleX(0.855)">PERPETUAL</span><span style="left:138.75px;transform:scaleX(0.891)">CONTRACT</span><span style="left:195.15px;transform:scaleX(0.833);font-weight:bold;-webkit-text-stroke:0.8px">&middot;</span><span style="left:201.65px;transform:scaleX(0.891)">4h</span><span style="left:215.75px;transform:scaleX(0.833);font-weight:bold;-webkit-text-stroke:0.8px">&middot;</span><span style="left:222.25px;transform:scaleX(0.972)">Binance</span></div>
<div class="ohlc" style="left:299px">O<i>0.14057</i></div>
<div class="ohlc" style="left:342px">H<i>0.15218</i></div>
<div class="ohlc" style="left:384.5px">L<i>0.13455</i></div>
<div class="ohlc" style="left:425.5px">C<i>0.14638</i></div>
<div class="ohlc" style="left:468.6px;transform:scaleX(0.93);transform-origin:0 0"><i>+0.00583</i></div>
<div class="ohlc" style="left:505.6px"><i>(+4.15%)</i></div>
<div class="btn" style="left:-2px;width:48.6px;border-color:#f3a6ad;color:#ea5862"><b>0.14652</b><s>SELL</s></div>
<div style="position:absolute;left:52px;top:26.6px;font-size:6.9px;line-height:12px;color:#30343f">0.00004</div>
<div class="btn" style="left:82.3px;width:47.4px;border-color:#8d93ea;color:#4f5be0"><b>0.14656</b><s>BUY</s></div>
<div style="position:absolute;left:12.9px;top:50.2px;font-size:9.6px;line-height:12px;color:#131722;-webkit-text-stroke:0.2px">9</div>
<div style="position:absolute;left:1234px;top:4.6px;font-size:8.4px;letter-spacing:-0.7px;line-height:12px;color:#30343f">USDT</div>
<div class="pl" style="top:20.0px">60.00000</div><div class="pl" style="top:48.0px">44.00000</div><div class="pl" style="top:76.7px">32.00000</div><div class="pl" style="top:102.6px">24.00000</div><div class="pl" style="top:128.6px">18.00000</div><div class="pl" style="top:158.0px">13.00000</div><div class="pl" style="top:186.2px">9.50000</div><div class="pl" style="top:213.8px">7.00000</div><div class="pl" style="top:244.1px">5.00000</div><div class="pl" style="top:268.9px">3.80000</div><div class="pl" style="top:296.4px">2.80000</div><div class="pl" style="top:322.4px">2.10000</div><div class="pl" style="top:346.9px">1.60000</div><div class="pl" style="top:372.9px">1.20000</div><div class="pl" style="top:398.8px">0.90000</div><div class="pl" style="top:428.2px">0.65000</div><div class="pl" style="top:453.7px">0.49000</div><div class="pl" style="top:479.0px">0.37000</div><div class="pl" style="top:507.4px">0.27000</div><div class="pl" style="top:534.5px">0.20000</div><div class="pl" style="top:617.1px">0.08000</div><div class="pl" style="top:643.1px">0.06000</div><div class="pl" style="top:671.1px">0.04400</div><div class="pl" style="top:699.8px">0.03200</div><div class="pl" style="top:725.7px">0.02400</div><div class="pl" style="top:751.7px">0.01800</div><div class="pl" style="top:777.6px">0.01350</div><div class="pl" style="top:802.0px">0.01030</div><div class="pl" style="top:827.1px">0.00780</div><div class="tl" style="left:123px">May</div><div class="tl" style="left:207px">Jun</div><div class="tl" style="left:289px">Jul</div><div class="tl" style="left:372px">Aug</div><div class="tl" style="left:456px">Sep</div><div class="tl" style="left:538px">Oct</div><div class="tl" style="left:621px">Nov</div><div class="tl" style="left:703px">Dec</div><div class="tl b" style="left:787px">2026</div><div class="tl" style="left:871px">Feb</div><div class="tl" style="left:947px">Mar</div><div class="tl" style="left:1031px">Apr</div>
<div class="tag" style="left:1229px;top:548.3px;width:44.4px;height:13.4px;background:#58595d;border-radius:2px 2px 0 0;padding:1px 0 0 6px">0.14698</div>
<div class="tag" style="left:1174.5px;top:561.7px;width:53.4px;height:13.9px;background:#3d9981;border-radius:2px 0 0 2px;padding:1px 0 0 3.3px;font-size:9.2px;-webkit-text-stroke:0.3px"><span style="display:inline-block;transform:scaleX(0.9);transform-origin:0 0">FHEUSDT.P</span></div>
<div class="tag" style="left:1229px;top:561.7px;width:48px;height:25.8px;background:#3d9981;border-radius:0 2px 2px 2px;padding:1px 0 0 6px">0.14638<br><span style="color:#d4ece5">01:03:40</span></div>
<div class="tag" style="left:1229px;top:588.1px;width:44.4px;height:13.7px;background:#3b1ee2;border-radius:2px;padding:1px 0 0 6px">0.10977</div>
<div class="tag" style="left:1229px;top:604.4px;width:44.4px;height:14.3px;background:#f09d33;border-radius:2px;padding:1px 0 0 6px;color:#1a1100">0.09115</div>
</body></html>
